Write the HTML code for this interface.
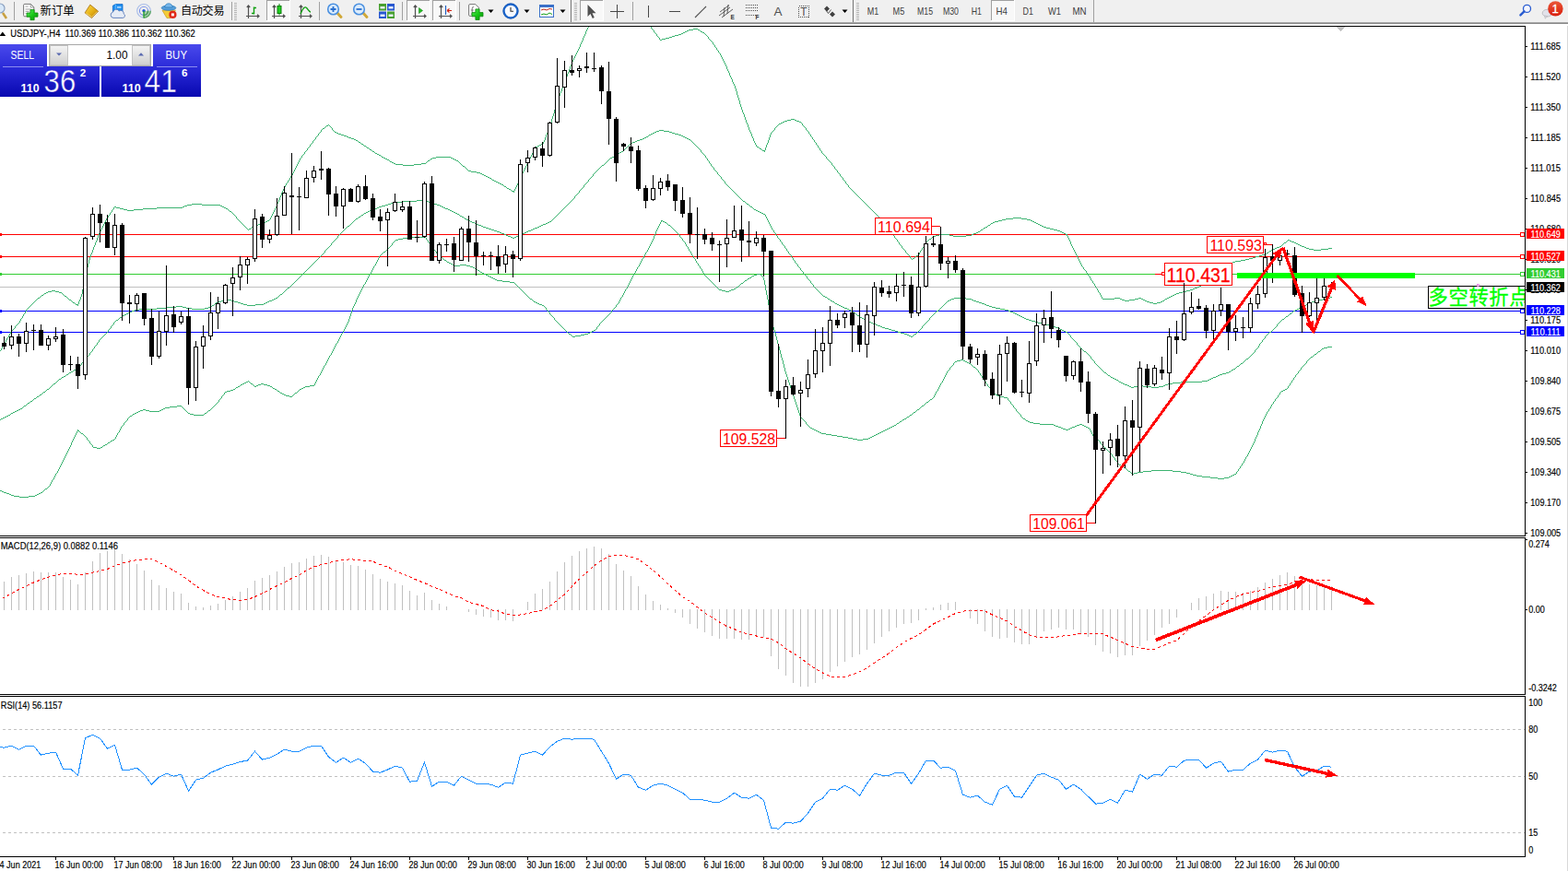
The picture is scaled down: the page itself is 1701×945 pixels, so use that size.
<!DOCTYPE html>
<html><head><meta charset="utf-8"><title>USDJPY H4</title>
<style>html,body{margin:0;padding:0;background:#fff;overflow:hidden}body{width:1701px;height:945px;font-family:"Liberation Sans",sans-serif}svg{display:block;position:absolute;left:0;top:0}text{font-family:"Liberation Sans",sans-serif}</style>
</head><body>
<svg width="1701" height="945" viewBox="0 0 1701 945">
<rect x="0" y="0" width="1701" height="945" fill="#fff" />
<defs><clipPath id="cm"><rect x="0" y="29" width="1654" height="552"/></clipPath><clipPath id="cmacd"><rect x="0" y="584" width="1654" height="169"/></clipPath><clipPath id="crsi"><rect x="0" y="756" width="1654" height="173"/></clipPath></defs>
<g clip-path="url(#cm)" shape-rendering="crispEdges">
<rect x="0" y="311" width="1654" height="1" fill="#c0c0c0" />
<rect x="0" y="254" width="1654" height="1" fill="#ff0000" />
<rect x="0" y="253" width="2" height="3" fill="#ff0000" />
<rect x="0" y="278" width="1654" height="1" fill="#ff0000" />
<rect x="0" y="277" width="2" height="3" fill="#ff0000" />
<rect x="0" y="297" width="1654" height="1" fill="#32cd32" />
<rect x="0" y="296" width="2" height="3" fill="#32cd32" />
<rect x="0" y="337" width="1654" height="1" fill="#0000ff" />
<rect x="0" y="336" width="2" height="3" fill="#0000ff" />
<rect x="0" y="360" width="1654" height="1" fill="#0000ff" />
<rect x="0" y="359" width="2" height="3" fill="#0000ff" />
<path d="M274 245h2v1h-2zM367 145h3v1h-3zM56 315h4v1h-4zM389 154h2v1h-2zM523 189h2v1h-2zM414 170h2v1h-2zM473 170h16v1h-16zM521 188h2v1h-2zM420 173h2v1h-2zM493 173h2v1h-2zM534 195h2v1h-2zM517 187h4v1h-4zM130 226h4v1h-4zM155 226h15v1h-15zM245 226h2v1h-2zM270 248h2v1h-2zM70 321h2v1h-2zM376 148h2v1h-2zM52 316h4v1h-4zM60 316h4v1h-4zM138 228h7v1h-7zM386 152h2v1h-2zM527 191h2v1h-2zM126 225h4v1h-4zM170 225h28v1h-28zM243 225h2v1h-2zM398 160h2v1h-2zM427 177h2v1h-2zM457 177h5v1h-5zM378 149h3v1h-3zM134 227h4v1h-4zM145 227h10v1h-10zM437 179h12v1h-12zM280 243h5v1h-5zM370 146h3v1h-3zM429 178h8v1h-8zM449 178h8v1h-8zM529 192h2v1h-2zM547 202h2v1h-2zM425 176h2v1h-2zM373 147h3v1h-3zM416 171h2v1h-2zM469 171h4v1h-4zM489 171h2v1h-2zM409 167h2v1h-2zM203 222h5v1h-5zM219 222h20v1h-20zM392 156h2v1h-2zM587 156h2v1h-2zM285 242h2v1h-2zM411 168h2v1h-2zM525 190h2v1h-2zM200 223h3v1h-3zM239 223h2v1h-2zM404 164h2v1h-2zM350 139h2v1h-2zM208 221h11v1h-11zM502 180h2v1h-2zM276 244h4v1h-4zM50 317h2v1h-2zM64 317h3v1h-3zM407 166h2v1h-2zM511 186h6v1h-6zM288 240h2v1h-2zM464 174h2v1h-2zM495 174h2v1h-2zM538 197h2v1h-2zM552 205h2v1h-2zM418 172h2v1h-2zM467 172h2v1h-2zM491 172h2v1h-2zM555 207h3v1h-3zM41 323h2v1h-2zM550 204h2v1h-2zM354 136h2v1h-2zM363 143h2v1h-2zM423 175h2v1h-2zM395 158h2v1h-2zM583 158h2v1h-2zM401 162h2v1h-2zM384 151h2v1h-2zM249 229h2v1h-2zM536 196h2v1h-2zM585 157h2v1h-2zM45 320h2v1h-2zM508 185h3v1h-3zM581 159h2v1h-2zM365 144h2v1h-2zM290 239h2v1h-2zM82 330h3v1h-3zM381 150h3v1h-3zM542 199h2v1h-2zM124 224h2v1h-2zM198 224h2v1h-2zM241 224h2v1h-2zM531 193h2v1h-2zM540 198h2v1h-2zM48 318h2v1h-2zM79 328h2v1h-2zM544 200h2v1h-2zM75 325h2v1h-2zM116 236h1v1h-1zM256 235h1v2h-1zM293 236h1v2h-1zM111 245h1v2h-1zM265 245h1v1h-1zM345 145h1v2h-1zM593 144h1v2h-1zM89 314h1v5h-1zM24 343h1v2h-1zM339 153h1v2h-1zM589 154h1v2h-1zM317 188h1v2h-1zM566 188h1v2h-1zM327 169h1v2h-1zM575 170h1v2h-1zM625 57h1v2h-1zM637 30h1v2h-1zM325 172h1v2h-1zM466 173h1v1h-1zM574 172h1v2h-1zM313 195h1v1h-1zM563 194h1v3h-1zM318 186h1v2h-1zM567 186h1v2h-1zM349 140h1v1h-1zM360 139h1v2h-1zM595 138h1v3h-1zM1 378h1v2h-1zM302 217h1v2h-1zM338 155h1v1h-1zM391 155h1v1h-1zM123 225h1v2h-1zM298 226h1v2h-1zM110 247h1v2h-1zM268 248h1v1h-1zM44 321h1v1h-1zM88 319h1v3h-1zM604 109h1v3h-1zM103 263h1v3h-1zM40 324h1v1h-1zM74 324h1v1h-1zM87 322h1v3h-1zM348 141h1v2h-1zM361 141h1v1h-1zM594 141h1v3h-1zM353 137h1v1h-1zM358 137h1v1h-1zM596 136h1v2h-1zM617 75h1v3h-1zM343 148h1v1h-1zM592 146h1v3h-1zM121 228h1v2h-1zM248 228h1v1h-1zM297 228h1v2h-1zM340 152h1v1h-1zM590 152h1v2h-1zM315 191h1v2h-1zM565 190h1v2h-1zM299 224h1v2h-1zM334 160h1v1h-1zM580 160h1v2h-1zM323 176h1v2h-1zM499 177h1v1h-1zM572 176h1v2h-1zM413 169h1v1h-1zM576 168h1v2h-1zM342 149h1v2h-1zM591 149h1v3h-1zM613 86h1v2h-1zM305 209h1v3h-1zM122 227h1v1h-1zM247 227h1v1h-1zM102 266h1v2h-1zM322 178h1v2h-1zM501 179h1v1h-1zM571 178h1v2h-1zM90 308h1v6h-1zM28 336h1v2h-1zM112 243h1v2h-1zM263 243h1v1h-1zM629 48h1v3h-1zM616 78h1v2h-1zM94 290h1v3h-1zM106 255h1v3h-1zM500 178h1v1h-1zM35 329h1v1h-1zM81 329h1v1h-1zM85 327h1v3h-1zM564 192h1v2h-1zM309 201h1v2h-1zM560 201h1v2h-1zM620 67h1v3h-1zM462 176h1v1h-1zM498 176h1v1h-1zM344 147h1v1h-1zM632 41h1v3h-1zM326 171h1v1h-1zM329 167h1v1h-1zM577 166h1v2h-1zM101 268h1v3h-1zM300 221h1v3h-1zM337 156h1v1h-1zM113 241h1v2h-1zM262 242h1v1h-1zM333 161h1v2h-1zM400 161h1v1h-1zM328 168h1v1h-1zM316 190h1v1h-1zM331 164h1v1h-1zM578 164h1v2h-1zM119 231h1v2h-1zM252 231h1v1h-1zM296 230h1v2h-1zM118 233h1v1h-1zM254 233h1v1h-1zM295 232h1v2h-1zM321 180h1v2h-1zM570 180h1v2h-1zM264 244h1v1h-1zM20 350h1v1h-1zM301 219h1v2h-1zM109 249h1v2h-1zM269 249h1v1h-1zM330 165h1v2h-1zM98 276h1v3h-1zM362 142h1v1h-1zM115 237h1v2h-1zM258 238h1v1h-1zM292 238h1v1h-1zM603 112h1v4h-1zM600 123h1v3h-1zM612 88h1v3h-1zM114 239h1v2h-1zM260 240h1v1h-1zM15 356h1v1h-1zM27 338h1v2h-1zM628 51h1v2h-1zM324 174h1v2h-1zM422 174h1v1h-1zM573 174h1v2h-1zM93 293h1v4h-1zM320 182h1v2h-1zM506 183h1v1h-1zM569 182h1v2h-1zM546 201h1v1h-1zM312 196h1v2h-1zM562 197h1v2h-1zM97 279h1v3h-1zM352 138h1v1h-1zM359 138h1v1h-1zM599 126h1v3h-1zM307 205h1v2h-1zM558 205h1v2h-1zM267 247h1v1h-1zM272 247h1v1h-1zM92 297h1v5h-1zM306 207h1v2h-1zM615 80h1v3h-1zM38 326h1v1h-1zM77 326h1v1h-1zM86 325h1v2h-1zM624 59h1v2h-1zM636 32h1v2h-1zM73 323h1v1h-1zM120 230h1v1h-1zM251 230h1v1h-1zM308 203h1v2h-1zM559 203h1v2h-1zM357 136h1v1h-1zM266 246h1v1h-1zM273 246h1v1h-1zM347 143h1v1h-1zM463 175h1v1h-1zM497 175h1v1h-1zM23 345h1v1h-1zM336 157h1v2h-1zM623 61h1v2h-1zM579 162h1v2h-1zM504 181h1v1h-1zM105 258h1v3h-1zM30 334h1v1h-1zM341 151h1v1h-1zM505 182h1v1h-1zM100 271h1v3h-1zM611 91h1v2h-1zM303 214h1v3h-1zM394 157h1v1h-1zM69 320h1v1h-1zM104 261h1v2h-1zM332 163h1v1h-1zM403 163h1v1h-1zM319 184h1v2h-1zM568 184h1v2h-1zM335 159h1v1h-1zM397 159h1v1h-1zM549 203h1v1h-1zM43 322h1v1h-1zM72 322h1v1h-1zM635 34h1v3h-1zM253 232h1v1h-1zM554 206h1v1h-1zM96 282h1v4h-1zM607 101h1v3h-1zM346 144h1v1h-1zM257 237h1v1h-1zM259 239h1v1h-1zM47 319h1v1h-1zM68 319h1v1h-1zM627 53h1v2h-1zM614 83h1v3h-1zM598 129h1v4h-1zM14 357h1v1h-1zM34 330h1v1h-1zM26 340h1v1h-1zM388 153h1v1h-1zM618 72h1v3h-1zM9 364h1v2h-1zM507 184h1v1h-1zM630 46h1v2h-1zM95 286h1v4h-1zM117 234h1v2h-1zM294 234h1v2h-1zM610 93h1v3h-1zM597 133h1v3h-1zM99 274h1v2h-1zM601 119h1v4h-1zM310 199h1v2h-1zM561 199h1v2h-1zM37 327h1v1h-1zM78 327h1v1h-1zM22 346h1v2h-1zM406 165h1v1h-1zM91 302h1v6h-1zM108 251h1v2h-1zM622 63h1v2h-1zM314 193h1v2h-1zM634 37h1v2h-1zM261 241h1v1h-1zM287 241h1v1h-1zM311 198h1v1h-1zM533 194h1v1h-1zM602 116h1v3h-1zM67 318h1v1h-1zM606 104h1v3h-1zM609 96h1v3h-1zM36 328h1v1h-1zM255 234h1v1h-1zM17 353h1v1h-1zM557 208h1v1h-1zM12 359h1v1h-1zM4 373h1v1h-1zM626 55h1v2h-1zM8 366h1v1h-1zM0 380h1v1h-1zM32 332h1v1h-1zM608 99h1v2h-1zM107 253h1v2h-1zM621 65h1v2h-1zM633 39h1v2h-1zM16 354h1v2h-1zM39 325h1v1h-1zM605 107h1v2h-1zM11 360h1v2h-1zM356 135h1v1h-1zM7 367h1v2h-1zM19 351h1v1h-1zM3 374h1v2h-1zM31 333h1v1h-1zM304 212h1v2h-1zM33 331h1v1h-1zM84 331h1v1h-1zM619 70h1v2h-1zM10 362h1v2h-1zM2 376h1v2h-1zM6 369h1v2h-1zM18 352h1v1h-1zM631 44h1v2h-1zM25 341h1v2h-1zM29 335h1v1h-1zM21 348h1v2h-1zM638 29h1v1h-1zM5 371h1v2h-1zM13 358h1v1h-1z" fill="#3cb371"/>
<path d="M1381 270h2v1h-2zM1420 270h5v1h-5zM1433 270h8v1h-8zM990 280h2v1h-2zM1355 280h4v1h-4zM1270 321h2v1h-2zM1012 256h3v1h-3zM1034 256h14v1h-14zM741 35h2v1h-2zM762 35h2v1h-2zM1056 253h3v1h-3zM1154 253h2v1h-2zM1268 322h2v1h-2zM851 131h3v1h-3zM864 131h3v1h-3zM1399 261h2v1h-2zM1217 325h3v1h-3zM1225 325h6v1h-6zM1240 325h2v1h-2zM1287 315h4v1h-4zM1091 237h8v1h-8zM1108 237h6v1h-6zM1406 264h2v1h-2zM1244 327h3v1h-3zM1259 327h2v1h-2zM847 133h2v1h-2zM1064 249h2v1h-2zM1143 249h4v1h-4zM1209 323h6v1h-6zM1235 323h3v1h-3zM1266 323h2v1h-2zM1408 265h2v1h-2zM1019 254h11v1h-11zM1054 254h2v1h-2zM1156 254h2v1h-2zM1247 328h4v1h-4zM1255 328h4v1h-4zM858 129h4v1h-4zM1410 266h2v1h-2zM1377 272h2v1h-2zM716 43h2v1h-2zM1015 255h4v1h-4zM1030 255h4v1h-4zM1048 255h6v1h-6zM745 33h2v1h-2zM1196 324h13v1h-13zM1215 324h2v1h-2zM1231 324h4v1h-4zM1238 324h2v1h-2zM1264 324h2v1h-2zM718 42h4v1h-4zM732 38h4v1h-4zM1079 240h4v1h-4zM1120 240h2v1h-2zM752 31h5v1h-5zM1324 292h2v1h-2zM1099 236h9v1h-9zM729 39h3v1h-3zM1337 284h3v1h-3zM1362 278h4v1h-4zM1340 283h6v1h-6zM1279 317h4v1h-4zM845 134h2v1h-2zM994 277h2v1h-2zM1366 277h3v1h-3zM854 130h4v1h-4zM862 130h2v1h-2zM1251 329h4v1h-4zM1061 251h2v1h-2zM1150 251h2v1h-2zM1393 263h2v1h-2zM1404 263h2v1h-2zM1379 271h2v1h-2zM1425 271h8v1h-8zM1374 274h2v1h-2zM1351 281h4v1h-4zM1130 245h2v1h-2zM747 32h5v1h-5zM757 32h2v1h-2zM1147 250h3v1h-3zM1075 242h2v1h-2zM1124 242h2v1h-2zM1388 267h2v1h-2zM1412 267h3v1h-3zM743 34h2v1h-2zM760 34h2v1h-2zM736 37h3v1h-3zM1294 313h2v1h-2zM1330 288h2v1h-2zM1272 320h2v1h-2zM726 40h3v1h-3zM821 159h2v1h-2zM827 163h3v1h-3zM1311 302h2v1h-2zM1087 238h4v1h-4zM1114 238h4v1h-4zM1383 269h2v1h-2zM1417 269h3v1h-3zM1441 269h4v1h-4zM1369 276h3v1h-3zM1069 246h2v1h-2zM1132 246h3v1h-3zM1067 247h2v1h-2zM1135 247h4v1h-4zM1059 252h2v1h-2zM1152 252h2v1h-2zM1126 243h2v1h-2zM739 36h2v1h-2zM849 132h2v1h-2zM867 132h2v1h-2zM1072 244h2v1h-2zM1128 244h2v1h-2zM1346 282h5v1h-5zM1276 318h3v1h-3zM1296 312h3v1h-3zM1385 268h3v1h-3zM1415 268h2v1h-2zM1397 260h2v1h-2zM1335 285h2v1h-2zM1139 248h4v1h-4zM1359 279h3v1h-3zM1083 239h4v1h-4zM1118 239h2v1h-2zM1401 262h3v1h-3zM1283 316h4v1h-4zM722 41h4v1h-4zM1008 259h2v1h-2zM1077 241h2v1h-2zM1122 241h2v1h-2zM1220 326h5v1h-5zM1242 326h2v1h-2zM1261 326h2v1h-2zM1291 314h3v1h-3zM1327 290h2v1h-2zM1372 275h2v1h-2zM824 161h2v1h-2zM1299 311h2v1h-2zM1320 295h2v1h-2zM1332 287h2v1h-2zM1301 310h2v1h-2zM1305 307h2v1h-2zM1316 298h2v1h-2zM1274 319h2v1h-2zM980 270h1v1h-1zM1000 269h1v2h-1zM1164 269h1v2h-1zM988 280h1v1h-1zM1169 279h1v2h-1zM1194 320h1v2h-1zM970 256h1v2h-1zM1158 256h1v2h-1zM710 35h1v1h-1zM967 252h1v2h-1zM1195 322h1v2h-1zM811 135h1v3h-1zM844 135h1v1h-1zM870 134h1v2h-1zM791 79h1v3h-1zM809 130h1v3h-1zM799 99h1v4h-1zM843 136h1v1h-1zM871 136h1v1h-1zM973 260h1v2h-1zM1006 261h1v1h-1zM1160 260h1v2h-1zM1396 261h1v1h-1zM1180 297h1v2h-1zM1318 297h1v1h-1zM812 138h1v3h-1zM840 139h1v2h-1zM874 139h1v2h-1zM1263 325h1v1h-1zM1191 315h1v2h-1zM955 237h1v2h-1zM975 263h1v2h-1zM1003 264h1v2h-1zM1161 262h1v3h-1zM1392 264h1v1h-1zM810 133h1v2h-1zM869 133h1v1h-1zM964 249h1v1h-1zM814 143h1v2h-1zM837 143h1v1h-1zM877 143h1v2h-1zM947 229h1v1h-1zM976 265h1v1h-1zM1162 265h1v2h-1zM1391 265h1v1h-1zM788 72h1v3h-1zM968 254h1v1h-1zM917 197h1v2h-1zM808 127h1v3h-1zM977 266h1v1h-1zM1002 266h1v2h-1zM1390 266h1v1h-1zM982 272h1v2h-1zM998 272h1v2h-1zM1165 271h1v2h-1zM819 155h1v2h-1zM832 155h1v2h-1zM885 155h1v2h-1zM816 148h1v2h-1zM834 149h1v3h-1zM881 149h1v2h-1zM770 43h1v1h-1zM921 203h1v1h-1zM802 109h1v4h-1zM969 255h1v1h-1zM1157 255h1v1h-1zM709 33h1v2h-1zM759 33h1v1h-1zM820 157h1v2h-1zM831 157h1v3h-1zM886 157h1v1h-1zM715 41h1v2h-1zM769 42h1v1h-1zM712 37h1v2h-1zM766 38h1v1h-1zM957 240h1v1h-1zM707 31h1v1h-1zM1176 292h1v1h-1zM954 236h1v1h-1zM713 39h1v1h-1zM767 39h1v1h-1zM795 89h1v2h-1zM1171 283h1v2h-1zM1174 289h1v1h-1zM1329 289h1v1h-1zM906 183h1v1h-1zM987 278h1v2h-1zM993 278h1v1h-1zM1168 277h1v2h-1zM806 122h1v2h-1zM928 210h1v1h-1zM971 258h1v1h-1zM1010 258h1v1h-1zM1159 258h1v2h-1zM1187 308h1v2h-1zM1304 308h1v1h-1zM1192 317h1v1h-1zM986 277h1v1h-1zM966 251h1v1h-1zM841 138h1v1h-1zM873 138h1v1h-1zM1004 263h1v1h-1zM818 153h1v2h-1zM833 152h1v3h-1zM884 154h1v1h-1zM981 271h1v1h-1zM999 271h1v1h-1zM983 274h1v1h-1zM997 274h1v2h-1zM1166 273h1v2h-1zM989 281h1v1h-1zM1170 281h1v2h-1zM961 245h1v1h-1zM1071 245h1v1h-1zM798 96h1v3h-1zM823 160h1v1h-1zM830 160h1v3h-1zM888 160h1v1h-1zM708 32h1v1h-1zM965 250h1v1h-1zM1063 250h1v1h-1zM959 242h1v2h-1zM978 267h1v2h-1zM1163 267h1v2h-1zM801 106h1v3h-1zM765 37h1v1h-1zM1190 313h1v2h-1zM905 181h1v2h-1zM805 119h1v3h-1zM1173 287h1v2h-1zM714 40h1v1h-1zM768 40h1v2h-1zM826 162h1v1h-1zM889 161h1v2h-1zM1185 305h1v2h-1zM1308 305h1v1h-1zM909 187h1v1h-1zM887 158h1v2h-1zM890 163h1v1h-1zM1183 302h1v2h-1zM979 269h1v1h-1zM817 150h1v3h-1zM883 152h1v2h-1zM891 164h1v2h-1zM920 201h1v2h-1zM985 276h1v1h-1zM996 276h1v1h-1zM1167 275h1v2h-1zM962 246h1v1h-1zM935 217h1v1h-1zM963 247h1v2h-1zM898 173h1v1h-1zM927 209h1v1h-1zM1074 243h1v1h-1zM815 145h1v3h-1zM835 146h1v3h-1zM879 146h1v2h-1zM711 36h1v1h-1zM764 36h1v1h-1zM960 244h1v1h-1zM1011 257h1v1h-1zM942 224h1v1h-1zM790 77h1v2h-1zM1179 296h1v1h-1zM1319 296h1v1h-1zM1172 285h1v2h-1zM1334 286h1v1h-1zM1193 318h1v2h-1zM934 216h1v1h-1zM1189 312h1v1h-1zM1001 268h1v1h-1zM1177 293h1v1h-1zM1323 293h1v1h-1zM919 200h1v1h-1zM1007 260h1v1h-1zM797 93h1v3h-1zM1376 273h1v1h-1zM787 70h1v2h-1zM949 231h1v1h-1zM1066 248h1v1h-1zM992 279h1v1h-1zM941 223h1v1h-1zM956 239h1v1h-1zM794 86h1v3h-1zM842 137h1v1h-1zM872 137h1v1h-1zM974 262h1v1h-1zM1005 262h1v1h-1zM1395 262h1v1h-1zM882 151h1v1h-1zM972 259h1v1h-1zM807 124h1v3h-1zM1175 290h1v2h-1zM1326 291h1v1h-1zM908 185h1v2h-1zM958 241h1v1h-1zM800 103h1v3h-1zM912 191h1v1h-1zM984 275h1v1h-1zM786 68h1v2h-1zM772 45h1v1h-1zM923 205h1v1h-1zM804 116h1v3h-1zM948 230h1v1h-1zM911 189h1v2h-1zM789 75h1v2h-1zM930 212h1v1h-1zM771 44h1v1h-1zM922 204h1v1h-1zM775 49h1v2h-1zM937 219h1v1h-1zM796 91h1v2h-1zM1310 303h1v1h-1zM899 174h1v1h-1zM836 144h1v2h-1zM878 145h1v1h-1zM1182 300h1v2h-1zM1314 300h1v1h-1zM900 175h1v1h-1zM929 211h1v1h-1zM1303 309h1v1h-1zM1307 306h1v1h-1zM813 141h1v2h-1zM839 141h1v1h-1zM875 141h1v1h-1zM892 166h1v1h-1zM774 48h1v1h-1zM782 60h1v2h-1zM1188 310h1v2h-1zM1178 294h1v2h-1zM1322 294h1v1h-1zM910 188h1v1h-1zM914 193h1v2h-1zM936 218h1v1h-1zM785 66h1v2h-1zM706 29h1v2h-1zM880 148h1v1h-1zM778 54h1v1h-1zM943 225h1v1h-1zM792 82h1v2h-1zM903 179h1v1h-1zM838 142h1v1h-1zM876 142h1v1h-1zM950 232h1v1h-1zM829 164h1v1h-1zM773 46h1v2h-1zM1186 307h1v1h-1zM951 233h1v1h-1zM784 64h1v2h-1zM924 206h1v1h-1zM1184 304h1v1h-1zM1309 304h1v1h-1zM777 52h1v2h-1zM925 207h1v1h-1zM902 177h1v2h-1zM913 192h1v1h-1zM932 214h1v1h-1zM783 62h1v2h-1zM1313 301h1v1h-1zM776 51h1v1h-1zM931 213h1v1h-1zM916 196h1v1h-1zM938 220h1v1h-1zM779 55h1v2h-1zM939 221h1v1h-1zM780 57h1v1h-1zM901 176h1v1h-1zM793 84h1v2h-1zM945 227h1v1h-1zM946 228h1v1h-1zM893 167h1v1h-1zM894 168h1v1h-1zM953 235h1v1h-1zM944 226h1v1h-1zM904 180h1v1h-1zM915 195h1v1h-1zM803 113h1v3h-1zM952 234h1v1h-1zM897 172h1v1h-1zM926 208h1v1h-1zM1181 299h1v1h-1zM1315 299h1v1h-1zM933 215h1v1h-1zM918 199h1v1h-1zM896 170h1v2h-1zM781 58h1v2h-1zM907 184h1v1h-1zM895 169h1v1h-1zM940 222h1v1h-1z" fill="#3cb371"/>
<path d="M130 344h2v1h-2zM933 344h2v1h-2zM1109 344h2v1h-2zM151 335h19v1h-19zM208 335h14v1h-14zM919 335h2v1h-2zM1085 335h5v1h-5zM1407 335h2v1h-2zM261 329h3v1h-3zM286 329h2v1h-2zM906 329h2v1h-2zM1065 329h3v1h-3zM1419 329h2v1h-2zM715 141h5v1h-5zM664 170h2v1h-2zM1227 420h3v1h-3zM1249 420h8v1h-8zM236 327h4v1h-4zM254 327h4v1h-4zM290 327h2v1h-2zM903 327h2v1h-2zM1059 327h3v1h-3zM1423 327h4v1h-4zM1326 405h4v1h-4zM554 257h2v1h-2zM558 257h2v1h-2zM952 353h3v1h-3zM1139 353h4v1h-4zM191 332h7v1h-7zM912 332h2v1h-2zM1073 332h3v1h-3zM1414 332h2v1h-2zM556 258h2v1h-2zM955 354h2v1h-2zM1143 354h2v1h-2zM230 331h2v1h-2zM268 331h9v1h-9zM910 331h2v1h-2zM1070 331h3v1h-3zM64 411h2v1h-2zM1209 411h2v1h-2zM1312 411h2v1h-2zM299 323h2v1h-2zM1035 323h13v1h-13zM1439 323h4v1h-4zM126 347h2v1h-2zM939 347h2v1h-2zM1116 347h3v1h-3zM170 334h10v1h-10zM202 334h6v1h-6zM222 334h4v1h-4zM916 334h3v1h-3zM1080 334h5v1h-5zM1409 334h3v1h-3zM1216 415h2v1h-2zM1272 415h9v1h-9zM1225 419h2v1h-2zM1230 419h4v1h-4zM1240 419h9v1h-9zM1257 419h5v1h-5zM139 339h2v1h-2zM926 339h2v1h-2zM1099 339h2v1h-2zM524 246h3v1h-3zM583 246h2v1h-2zM146 336h5v1h-5zM921 336h2v1h-2zM1090 336h4v1h-4zM1405 336h2v1h-2zM240 326h6v1h-6zM251 326h3v1h-3zM292 326h3v1h-3zM901 326h2v1h-2zM1028 326h2v1h-2zM1056 326h3v1h-3zM1427 326h4v1h-4zM246 325h5v1h-5zM295 325h2v1h-2zM1030 325h2v1h-2zM1054 325h2v1h-2zM1431 325h4v1h-4zM662 171h2v1h-2zM180 333h11v1h-11zM198 333h4v1h-4zM226 333h3v1h-3zM914 333h2v1h-2zM1076 333h4v1h-4zM1412 333h2v1h-2zM527 247h3v1h-3zM580 247h3v1h-3zM264 330h4v1h-4zM277 330h9v1h-9zM908 330h2v1h-2zM1068 330h2v1h-2zM1417 330h2v1h-2zM386 237h2v1h-2zM504 237h2v1h-2zM689 153h2v1h-2zM1352 389h2v1h-2zM1214 414h2v1h-2zM1281 414h23v1h-23zM20 444h2v1h-2zM452 217h9v1h-9zM16 446h2v1h-2zM708 144h2v1h-2zM729 144h3v1h-3zM519 244h3v1h-3zM587 244h2v1h-2zM40 430h2v1h-2zM137 340h2v1h-2zM1101 340h2v1h-2zM1399 340h2v1h-2zM704 146h2v1h-2zM736 146h3v1h-3zM141 338h2v1h-2zM1096 338h3v1h-3zM686 154h3v1h-3zM1220 417h3v1h-3zM1264 417h3v1h-3zM421 221h3v1h-3zM471 221h3v1h-3zM810 221h2v1h-2zM397 230h2v1h-2zM492 230h2v1h-2zM824 230h2v1h-2zM530 248h3v1h-3zM578 248h2v1h-2zM943 349h2v1h-2zM1123 349h3v1h-3zM947 351h3v1h-3zM1130 351h5v1h-5zM297 324h2v1h-2zM898 324h2v1h-2zM1032 324h3v1h-3zM1048 324h6v1h-6zM1435 324h4v1h-4zM697 150h2v1h-2zM745 150h2v1h-2zM437 218h15v1h-15zM461 218h4v1h-4zM806 218h2v1h-2zM135 341h2v1h-2zM1103 341h2v1h-2zM672 165h2v1h-2zM409 225h2v1h-2zM481 225h2v1h-2zM1304 413h6v1h-6zM424 220h4v1h-4zM469 220h2v1h-2zM406 226h3v1h-3zM483 226h3v1h-3zM26 440h2v1h-2zM1202 407h2v1h-2zM1321 407h2v1h-2zM234 328h2v1h-2zM258 328h3v1h-3zM288 328h2v1h-2zM1062 328h3v1h-3zM1421 328h2v1h-2zM533 249h3v1h-3zM576 249h2v1h-2zM551 256h3v1h-3zM560 256h2v1h-2zM945 350h2v1h-2zM1126 350h4v1h-4zM411 224h3v1h-3zM479 224h2v1h-2zM814 224h2v1h-2zM1211 412h2v1h-2zM1310 412h2v1h-2zM699 149h2v1h-2zM743 149h2v1h-2zM428 219h9v1h-9zM465 219h4v1h-4zM937 346h2v1h-2zM1113 346h3v1h-3zM1391 346h2v1h-2zM80 401h2v1h-2zM1336 401h2v1h-2zM517 243h2v1h-2zM589 243h3v1h-3zM986 364h2v1h-2zM988 365h2v1h-2zM77 403h2v1h-2zM1333 403h2v1h-2zM542 252h2v1h-2zM569 252h2v1h-2zM684 155h2v1h-2zM1176 381h2v1h-2zM399 229h2v1h-2zM490 229h2v1h-2zM822 229h2v1h-2zM377 245h2v1h-2zM522 245h2v1h-2zM585 245h2v1h-2zM974 360h3v1h-3zM1156 360h2v1h-2zM1377 360h2v1h-2zM977 361h4v1h-4zM304 319h2v1h-2zM941 348h2v1h-2zM1119 348h4v1h-4zM508 239h2v1h-2zM1207 410h2v1h-2zM1314 410h2v1h-2zM971 359h3v1h-3zM1154 359h2v1h-2zM133 342h2v1h-2zM930 342h2v1h-2zM1105 342h2v1h-2zM712 142h3v1h-3zM720 142h6v1h-6zM392 233h2v1h-2zM957 355h3v1h-3zM1145 355h3v1h-3zM950 352h2v1h-2zM1135 352h4v1h-4zM935 345h2v1h-2zM1111 345h2v1h-2zM981 362h3v1h-3zM992 362h2v1h-2zM669 167h2v1h-2zM984 363h2v1h-2zM496 232h2v1h-2zM828 232h2v1h-2zM47 425h2v1h-2zM499 234h2v1h-2zM7 451h2v1h-2zM694 151h3v1h-3zM747 151h2v1h-2zM1223 418h2v1h-2zM1234 418h6v1h-6zM1262 418h2v1h-2zM515 242h2v1h-2zM592 242h2v1h-2zM72 406h2v1h-2zM1323 406h3v1h-3zM1346 394h2v1h-2zM653 179h2v1h-2zM691 152h3v1h-3zM701 148h2v1h-2zM741 148h2v1h-2zM967 358h4v1h-4zM1152 358h2v1h-2zM706 145h2v1h-2zM732 145h4v1h-4zM414 223h4v1h-4zM477 223h2v1h-2zM30 437h2v1h-2zM75 404h2v1h-2zM1198 404h2v1h-2zM1330 404h3v1h-3zM544 253h3v1h-3zM567 253h2v1h-2zM536 250h3v1h-3zM573 250h3v1h-3zM14 447h2v1h-2zM506 238h2v1h-2zM510 240h2v1h-2zM596 240h2v1h-2zM67 409h2v1h-2zM1205 409h2v1h-2zM1316 409h3v1h-3zM143 337h3v1h-3zM923 337h2v1h-2zM1016 337h2v1h-2zM1094 337h2v1h-2zM1403 337h2v1h-2zM51 422h2v1h-2zM69 408h2v1h-2zM1319 408h2v1h-2zM3 453h2v1h-2zM418 222h3v1h-3zM474 222h3v1h-3zM964 357h3v1h-3zM1150 357h2v1h-2zM22 443h2v1h-2zM895 322h2v1h-2zM1443 322h2v1h-2zM674 164h2v1h-2zM512 241h3v1h-3zM594 241h2v1h-2zM960 356h4v1h-4zM1148 356h2v1h-2zM58 416h2v1h-2zM1218 416h2v1h-2zM1267 416h5v1h-5zM710 143h2v1h-2zM726 143h3v1h-3zM547 254h2v1h-2zM564 254h3v1h-3zM739 147h2v1h-2zM5 452h2v1h-2zM389 235h2v1h-2zM501 235h2v1h-2zM539 251h3v1h-3zM571 251h2v1h-2zM549 255h2v1h-2zM562 255h2v1h-2zM1342 397h2v1h-2zM37 432h2v1h-2zM1107 343h2v1h-2zM1395 343h2v1h-2zM312 312h2v1h-2zM1 454h2v1h-2zM401 228h3v1h-3zM488 228h2v1h-2zM820 228h2v1h-2zM43 428h2v1h-2zM395 231h2v1h-2zM494 231h2v1h-2zM826 231h2v1h-2zM12 448h2v1h-2zM893 321h2v1h-2zM404 227h2v1h-2zM486 227h2v1h-2zM818 227h2v1h-2zM666 169h2v1h-2zM9 450h2v1h-2zM82 400h2v1h-2zM1338 400h2v1h-2zM18 445h2v1h-2zM33 435h2v1h-2zM648 184h1v1h-1zM775 184h1v1h-1zM1009 344h1v1h-1zM1394 344h1v1h-1zM95 386h1v1h-1zM1182 386h1v1h-1zM1356 386h1v1h-1zM1019 335h1v1h-1zM233 329h1v1h-1zM1025 329h1v1h-1zM634 200h1v1h-1zM788 200h1v1h-1zM100 379h1v2h-1zM1175 380h1v1h-1zM1361 380h1v2h-1zM765 169h1v2h-1zM54 420h1v1h-1zM1027 327h1v1h-1zM74 405h1v1h-1zM1200 405h1v1h-1zM366 256h1v2h-1zM843 256h1v2h-1zM121 353h1v1h-1zM1001 353h1v1h-1zM1385 352h1v2h-1zM229 332h1v1h-1zM1022 332h1v1h-1zM365 258h1v1h-1zM844 258h1v1h-1zM120 354h1v2h-1zM1000 354h1v2h-1zM1384 354h1v1h-1zM1023 331h1v1h-1zM1416 331h1v1h-1zM349 276h1v1h-1zM857 276h1v1h-1zM897 323h1v1h-1zM1007 347h1v1h-1zM1390 347h1v1h-1zM348 277h1v1h-1zM858 277h1v2h-1zM1020 334h1v1h-1zM60 415h1v1h-1zM55 419h1v1h-1zM328 297h1v1h-1zM872 297h1v1h-1zM1014 339h1v1h-1zM1401 339h1v1h-1zM376 246h1v1h-1zM836 245h1v2h-1zM1018 336h1v1h-1zM900 325h1v1h-1zM766 171h1v1h-1zM107 369h1v2h-1zM1166 370h1v1h-1zM1369 369h1v2h-1zM1021 333h1v1h-1zM375 247h1v1h-1zM837 247h1v2h-1zM232 330h1v1h-1zM1024 330h1v1h-1zM94 387h1v2h-1zM1183 387h1v2h-1zM1354 388h1v1h-1zM600 237h1v1h-1zM832 237h1v2h-1zM750 153h1v1h-1zM93 389h1v1h-1zM1184 389h1v1h-1zM61 414h1v1h-1zM620 217h1v1h-1zM805 217h1v1h-1zM379 244h1v1h-1zM835 243h1v2h-1zM928 340h1v1h-1zM1013 340h1v1h-1zM925 338h1v1h-1zM1015 338h1v1h-1zM1402 338h1v1h-1zM751 154h1v1h-1zM57 417h1v1h-1zM616 221h1v1h-1zM607 230h1v1h-1zM643 189h1v2h-1zM779 189h1v1h-1zM374 248h1v1h-1zM124 349h1v1h-1zM1005 349h1v1h-1zM1388 349h1v1h-1zM123 350h1v2h-1zM1003 351h1v1h-1zM1386 351h1v1h-1zM364 259h1v1h-1zM845 259h1v1h-1zM363 260h1v1h-1zM846 260h1v2h-1zM345 280h1v1h-1zM860 280h1v2h-1zM339 286h1v1h-1zM864 286h1v1h-1zM319 306h1v1h-1zM879 305h1v2h-1zM326 299h1v1h-1zM874 299h1v1h-1zM619 218h1v1h-1zM650 182h1v1h-1zM774 182h1v2h-1zM325 300h1v1h-1zM875 300h1v2h-1zM929 341h1v1h-1zM1012 341h1v1h-1zM1398 341h1v1h-1zM659 174h1v1h-1zM768 174h1v1h-1zM761 165h1v1h-1zM105 372h1v2h-1zM1168 372h1v2h-1zM1366 373h1v2h-1zM612 225h1v1h-1zM816 225h1v1h-1zM62 413h1v1h-1zM1213 413h1v1h-1zM617 220h1v1h-1zM809 220h1v1h-1zM611 226h1v1h-1zM817 226h1v1h-1zM652 180h1v1h-1zM772 180h1v1h-1zM640 193h1v1h-1zM782 192h1v2h-1zM71 407h1v1h-1zM905 328h1v1h-1zM1026 328h1v1h-1zM642 191h1v1h-1zM781 191h1v1h-1zM373 249h1v1h-1zM838 249h1v1h-1zM1004 350h1v1h-1zM1387 350h1v1h-1zM613 224h1v1h-1zM680 159h1v1h-1zM756 159h1v1h-1zM637 197h1v1h-1zM786 197h1v2h-1zM63 412h1v1h-1zM1174 379h1v1h-1zM1362 379h1v1h-1zM677 162h1v1h-1zM759 162h1v1h-1zM338 287h1v1h-1zM865 287h1v2h-1zM618 219h1v1h-1zM808 219h1v1h-1zM128 346h1v1h-1zM1008 345h1v2h-1zM1195 401h1v1h-1zM380 243h1v1h-1zM112 364h1v1h-1zM990 364h1v1h-1zM1161 364h1v2h-1zM1373 364h1v1h-1zM629 206h1v1h-1zM794 206h1v1h-1zM111 365h1v1h-1zM1372 365h1v2h-1zM1197 403h1v1h-1zM370 252h1v1h-1zM840 252h1v1h-1zM361 262h1v1h-1zM847 262h1v1h-1zM752 155h1v1h-1zM88 394h1v2h-1zM1189 395h1v1h-1zM1345 395h1v1h-1zM360 263h1v1h-1zM848 263h1v2h-1zM323 302h1v1h-1zM876 302h1v1h-1zM99 381h1v1h-1zM322 303h1v1h-1zM877 303h1v1h-1zM608 229h1v1h-1zM357 267h1v1h-1zM851 267h1v2h-1zM96 385h1v1h-1zM1181 385h1v1h-1zM1357 385h1v1h-1zM116 360h1v1h-1zM995 360h1v1h-1zM103 375h1v1h-1zM1170 375h1v1h-1zM1365 375h1v2h-1zM115 361h1v1h-1zM994 361h1v1h-1zM1158 361h1v1h-1zM1376 361h1v1h-1zM352 272h1v2h-1zM855 273h1v2h-1zM102 376h1v2h-1zM1171 376h1v1h-1zM110 366h1v1h-1zM1162 366h1v1h-1zM891 319h1v1h-1zM125 348h1v1h-1zM1006 348h1v1h-1zM1389 348h1v1h-1zM384 239h1v1h-1zM598 239h1v1h-1zM833 239h1v2h-1zM321 304h1v1h-1zM878 304h1v1h-1zM66 410h1v1h-1zM117 358h1v2h-1zM996 359h1v1h-1zM1379 359h1v1h-1zM98 382h1v1h-1zM1178 382h1v1h-1zM1360 382h1v1h-1zM318 307h1v1h-1zM880 307h1v1h-1zM1011 342h1v1h-1zM1397 342h1v1h-1zM498 233h1v1h-1zM604 233h1v1h-1zM830 233h1v2h-1zM1383 355h1v1h-1zM122 352h1v1h-1zM1002 352h1v1h-1zM129 345h1v1h-1zM1393 345h1v1h-1zM631 204h1v1h-1zM792 204h1v1h-1zM320 305h1v1h-1zM114 362h1v1h-1zM1159 362h1v1h-1zM1375 362h1v1h-1zM763 167h1v1h-1zM647 185h1v1h-1zM776 185h1v1h-1zM113 363h1v1h-1zM991 363h1v1h-1zM1160 363h1v1h-1zM1374 363h1v1h-1zM394 232h1v1h-1zM605 232h1v1h-1zM636 198h1v1h-1zM332 293h1v1h-1zM869 293h1v1h-1zM635 199h1v1h-1zM787 199h1v1h-1zM24 442h1v1h-1zM347 278h1v1h-1zM391 234h1v1h-1zM603 234h1v1h-1zM1367 372h1v1h-1zM649 183h1v1h-1zM646 186h1v1h-1zM777 186h1v1h-1zM56 418h1v1h-1zM630 205h1v1h-1zM793 205h1v1h-1zM351 274h1v1h-1zM381 242h1v1h-1zM834 241h1v2h-1zM641 192h1v1h-1zM1201 406h1v1h-1zM1188 394h1v1h-1zM622 215h1v1h-1zM803 215h1v1h-1zM104 374h1v1h-1zM1169 374h1v1h-1zM771 178h1v2h-1zM749 152h1v1h-1zM317 308h1v1h-1zM881 308h1v1h-1zM997 358h1v1h-1zM1380 358h1v1h-1zM614 223h1v1h-1zM813 223h1v1h-1zM91 391h1v1h-1zM1186 391h1v1h-1zM1350 391h1v1h-1zM638 195h1v2h-1zM785 196h1v1h-1zM369 253h1v1h-1zM841 253h1v2h-1zM92 390h1v1h-1zM1185 390h1v1h-1zM1351 390h1v1h-1zM372 250h1v1h-1zM839 250h1v2h-1zM660 173h1v1h-1zM767 172h1v2h-1zM306 318h1v1h-1zM890 318h1v1h-1zM87 396h1v1h-1zM1190 396h1v1h-1zM1344 396h1v1h-1zM341 284h1v1h-1zM862 283h1v2h-1zM681 158h1v1h-1zM755 158h1v1h-1zM385 238h1v1h-1zM599 238h1v1h-1zM628 207h1v2h-1zM795 207h1v1h-1zM796 208h1v1h-1zM310 314h1v1h-1zM886 314h1v1h-1zM383 240h1v1h-1zM1172 377h1v1h-1zM1364 377h1v1h-1zM97 383h1v2h-1zM1179 383h1v1h-1zM1359 383h1v1h-1zM1204 408h1v1h-1zM780 190h1v1h-1zM623 213h1v2h-1zM802 214h1v1h-1zM624 212h1v1h-1zM800 212h1v1h-1zM362 261h1v1h-1zM324 301h1v1h-1zM344 281h1v1h-1zM679 160h1v1h-1zM757 160h1v1h-1zM79 402h1v1h-1zM1196 402h1v1h-1zM1335 402h1v1h-1zM678 161h1v1h-1zM758 161h1v1h-1zM615 222h1v1h-1zM812 222h1v1h-1zM1180 384h1v1h-1zM1358 384h1v1h-1zM118 357h1v1h-1zM998 357h1v1h-1zM1381 357h1v1h-1zM331 294h1v1h-1zM870 294h1v1h-1zM109 367h1v1h-1zM1163 367h1v1h-1zM1371 367h1v1h-1zM301 322h1v1h-1zM343 282h1v1h-1zM861 282h1v1h-1zM358 266h1v1h-1zM850 266h1v1h-1zM311 313h1v1h-1zM885 313h1v1h-1zM355 269h1v1h-1zM852 269h1v1h-1zM633 201h1v2h-1zM789 201h1v1h-1zM350 275h1v1h-1zM856 275h1v1h-1zM108 368h1v1h-1zM1164 368h1v1h-1zM1370 368h1v1h-1zM661 172h1v1h-1zM359 264h1v2h-1zM303 320h1v1h-1zM892 320h1v1h-1zM342 283h1v1h-1zM336 289h1v1h-1zM866 289h1v1h-1zM760 163h1v2h-1zM656 177h1v1h-1zM770 177h1v1h-1zM655 178h1v1h-1zM1355 387h1v1h-1zM90 392h1v1h-1zM1187 392h1v2h-1zM1349 392h1v1h-1zM382 241h1v1h-1zM671 166h1v1h-1zM762 166h1v1h-1zM119 356h1v1h-1zM999 356h1v1h-1zM1382 356h1v1h-1zM632 203h1v1h-1zM791 203h1v1h-1zM330 295h1v1h-1zM871 295h1v2h-1zM388 236h1v1h-1zM503 236h1v1h-1zM601 236h1v1h-1zM831 235h1v2h-1zM854 272h1v1h-1zM368 254h1v1h-1zM703 147h1v1h-1zM337 288h1v1h-1zM651 181h1v1h-1zM773 181h1v1h-1zM626 210h1v1h-1zM798 210h1v1h-1zM602 235h1v1h-1zM371 251h1v1h-1zM801 213h1v1h-1zM639 194h1v1h-1zM783 194h1v1h-1zM683 156h1v1h-1zM753 156h1v1h-1zM682 157h1v1h-1zM754 157h1v1h-1zM367 255h1v1h-1zM842 255h1v1h-1zM86 397h1v1h-1zM1191 397h1v1h-1zM676 163h1v1h-1zM1165 369h1v1h-1zM316 309h1v1h-1zM882 309h1v2h-1zM668 168h1v1h-1zM764 168h1v1h-1zM106 371h1v1h-1zM1167 371h1v1h-1zM1368 371h1v1h-1zM327 298h1v1h-1zM873 298h1v1h-1zM132 343h1v1h-1zM932 343h1v1h-1zM1010 343h1v1h-1zM314 311h1v1h-1zM883 311h1v1h-1zM884 312h1v1h-1zM609 228h1v1h-1zM329 296h1v1h-1zM85 398h1v1h-1zM1192 398h1v1h-1zM1341 398h1v1h-1zM32 436h1v1h-1zM627 209h1v1h-1zM797 209h1v1h-1zM606 231h1v1h-1zM790 202h1v1h-1zM849 265h1v1h-1zM340 285h1v1h-1zM863 285h1v1h-1zM302 321h1v1h-1zM46 426h1v1h-1zM307 317h1v1h-1zM889 317h1v1h-1zM610 227h1v1h-1zM356 268h1v1h-1zM29 438h1v1h-1zM644 188h1v1h-1zM778 187h1v2h-1zM625 211h1v1h-1zM799 211h1v1h-1zM84 399h1v1h-1zM1193 399h1v1h-1zM1340 399h1v1h-1zM309 315h1v1h-1zM887 315h1v1h-1zM658 175h1v1h-1zM769 175h1v2h-1zM89 393h1v1h-1zM1348 393h1v1h-1zM354 270h1v1h-1zM853 270h1v2h-1zM11 449h1v1h-1zM39 431h1v1h-1zM335 290h1v1h-1zM867 290h1v1h-1zM101 378h1v1h-1zM1173 378h1v1h-1zM1363 378h1v1h-1zM334 291h1v1h-1zM868 291h1v2h-1zM315 310h1v1h-1zM308 316h1v1h-1zM888 316h1v1h-1zM1194 400h1v1h-1zM45 427h1v1h-1zM784 195h1v1h-1zM346 279h1v1h-1zM859 279h1v1h-1zM53 421h1v1h-1zM645 187h1v1h-1zM28 439h1v1h-1zM353 271h1v1h-1zM36 433h1v1h-1zM657 176h1v1h-1zM0 455h1v1h-1zM42 429h1v1h-1zM50 423h1v1h-1zM621 216h1v1h-1zM804 216h1v1h-1zM333 292h1v1h-1zM25 441h1v1h-1zM35 434h1v1h-1zM49 424h1v1h-1z" fill="#3cb371"/>
<path d="M796 313h2v1h-2zM88 470h2v1h-2zM891 470h5v1h-5zM952 470h2v1h-2zM306 427h2v1h-2zM1078 427h2v1h-2zM1304 517h9v1h-9zM1333 517h2v1h-2zM150 446h2v1h-2zM162 446h11v1h-11zM250 423h3v1h-3zM1392 423h2v1h-2zM525 297h2v1h-2zM821 297h4v1h-4zM1117 458h4v1h-4zM155 444h3v1h-3zM175 444h2v1h-2zM995 444h2v1h-2zM192 440h5v1h-5zM1000 440h2v1h-2zM1009 433h2v1h-2zM493 288h6v1h-6zM506 288h4v1h-4zM485 284h2v1h-2zM10 536h2v1h-2zM40 536h2v1h-2zM583 329h2v1h-2zM101 485h4v1h-4zM109 485h2v1h-2zM253 422h2v1h-2zM298 422h2v1h-2zM325 422h2v1h-2zM1394 422h2v1h-2zM278 418h2v1h-2zM290 418h3v1h-3zM336 418h5v1h-5zM1249 510h23v1h-23zM920 475h5v1h-5zM942 475h2v1h-2zM1187 475h3v1h-3zM15 538h6v1h-6zM31 538h7v1h-7zM256 420h2v1h-2zM329 420h2v1h-2zM1038 391h4v1h-4zM1045 391h2v1h-2zM624 364h6v1h-6zM581 328h2v1h-2zM545 305h8v1h-8zM296 421h2v1h-2zM327 421h2v1h-2zM442 257h20v1h-20zM246 424h4v1h-4zM301 424h2v1h-2zM1390 424h2v1h-2zM1426 384h2v1h-2zM1089 431h4v1h-4zM717 239h2v1h-2zM883 466h2v1h-2zM960 466h2v1h-2zM1156 466h3v1h-3zM896 471h6v1h-6zM950 471h2v1h-2zM527 298h2v1h-2zM818 298h3v1h-3zM617 362h2v1h-2zM634 362h4v1h-4zM780 314h3v1h-3zM793 314h3v1h-3zM258 419h2v1h-2zM276 419h2v1h-2zM293 419h2v1h-2zM331 419h5v1h-5zM491 287h2v1h-2zM499 287h7v1h-7zM117 480h2v1h-2zM112 483h2v1h-2zM644 358h2v1h-2zM310 429h4v1h-4zM1082 429h2v1h-2zM144 449h2v1h-2zM206 449h4v1h-4zM1128 460h15v1h-15zM1171 460h3v1h-3zM529 299h2v1h-2zM816 299h2v1h-2zM925 476h5v1h-5zM936 476h6v1h-6zM1036 392h2v1h-2zM1047 392h2v1h-2zM510 289h3v1h-3zM984 452h2v1h-2zM575 324h2v1h-2zM640 360h2v1h-2zM314 430h3v1h-3zM1084 430h5v1h-5zM638 361h2v1h-2zM1219 507h2v1h-2zM914 474h6v1h-6zM944 474h2v1h-2zM881 465h2v1h-2zM962 465h2v1h-2zM1153 465h3v1h-3zM1159 465h2v1h-2zM416 273h2v1h-2zM267 414h2v1h-2zM521 295h2v1h-2zM1298 516h6v1h-6zM1335 516h2v1h-2zM968 462h2v1h-2zM1145 462h3v1h-3zM1166 462h2v1h-2zM1176 462h2v1h-2zM304 426h2v1h-2zM320 426h2v1h-2zM515 291h2v1h-2zM210 450h11v1h-11zM987 450h2v1h-2zM1224 511h2v1h-2zM1240 511h9v1h-9zM1272 511h9v1h-9zM105 486h4v1h-4zM902 472h6v1h-6zM948 472h2v1h-2zM152 445h3v1h-3zM158 445h4v1h-4zM173 445h2v1h-2zM226 445h2v1h-2zM1228 514h2v1h-2zM1291 514h3v1h-3zM1339 514h2v1h-2zM981 454h2v1h-2zM1110 454h2v1h-2zM261 417h2v1h-2zM280 417h3v1h-3zM286 417h4v1h-4zM122 477h2v1h-2zM930 477h6v1h-6zM1430 381h2v1h-2zM265 415h2v1h-2zM787 316h4v1h-4zM879 464h2v1h-2zM964 464h2v1h-2zM1151 464h2v1h-2zM1161 464h2v1h-2zM1180 464h2v1h-2zM1436 377h4v1h-4zM489 286h2v1h-2zM120 478h2v1h-2zM799 311h2v1h-2zM621 365h3v1h-3zM1042 390h3v1h-3zM539 304h6v1h-6zM808 304h2v1h-2zM1422 387h2v1h-2zM908 473h6v1h-6zM946 473h2v1h-2zM579 327h2v1h-2zM184 441h8v1h-8zM585 330h3v1h-3zM84 467h2v1h-2zM885 467h2v1h-2zM958 467h2v1h-2zM1049 393h2v1h-2zM588 331h2v1h-2zM478 279h2v1h-2zM177 443h2v1h-2zM179 442h5v1h-5zM1294 515h4v1h-4zM1337 515h2v1h-2zM114 482h2v1h-2zM630 363h4v1h-4zM146 448h2v1h-2zM204 448h2v1h-2zM222 448h2v1h-2zM1217 506h2v1h-2zM1313 518h8v1h-8zM1328 518h5v1h-5zM553 306h5v1h-5zM979 455h2v1h-2zM1230 513h4v1h-4zM1287 513h4v1h-4zM725 244h2v1h-2zM1440 376h5v1h-5zM966 463h2v1h-2zM1148 463h3v1h-3zM1163 463h3v1h-3zM1178 463h2v1h-2zM889 469h2v1h-2zM954 469h2v1h-2zM970 461h2v1h-2zM1143 461h2v1h-2zM1168 461h3v1h-3zM1174 461h2v1h-2zM308 428h2v1h-2zM1080 428h2v1h-2zM973 459h2v1h-2zM1121 459h7v1h-7zM148 447h2v1h-2zM991 447h2v1h-2zM976 457h2v1h-2zM1115 457h2v1h-2zM721 241h2v1h-2zM432 259h5v1h-5zM482 282h2v1h-2zM244 425h2v1h-2zM1005 436h2v1h-2zM141 451h2v1h-2zM523 296h2v1h-2zM12 537h3v1h-3zM38 537h2v1h-2zM537 303h2v1h-2zM1214 504h2v1h-2zM887 468h2v1h-2zM956 468h2v1h-2zM263 416h2v1h-2zM272 416h2v1h-2zM283 416h3v1h-3zM804 307h2v1h-2zM1234 512h6v1h-6zM1281 512h6v1h-6zM642 359h2v1h-2zM531 300h2v1h-2zM513 290h2v1h-2zM21 539h10v1h-10zM1434 378h2v1h-2zM1056 398h2v1h-2zM437 258h5v1h-5zM429 260h3v1h-3zM783 315h4v1h-4zM791 315h2v1h-2zM7 535h3v1h-3zM42 535h2v1h-2zM2 533h2v1h-2zM1321 519h7v1h-7zM533 301h2v1h-2zM813 301h2v1h-2zM1113 456h2v1h-2zM4 534h3v1h-3zM44 534h2v1h-2zM535 302h2v1h-2zM811 302h2v1h-2zM1051 394h2v1h-2zM49 530h2v1h-2zM487 285h2v1h-2zM518 293h2v1h-2zM719 240h2v1h-2zM0 532h2v1h-2zM392 313h1v2h-1zM564 313h1v1h-1zM679 313h1v1h-1zM779 313h1v1h-1zM830 309h1v6h-1zM377 349h1v2h-1zM604 349h1v1h-1zM652 349h1v1h-1zM837 348h1v3h-1zM388 321h1v2h-1zM573 322h1v1h-1zM674 322h1v1h-1zM832 320h1v5h-1zM82 470h1v2h-1zM127 470h1v2h-1zM1184 469h1v2h-1zM1364 469h1v3h-1zM77 480h1v3h-1zM98 481h1v1h-1zM116 481h1v1h-1zM1194 481h1v1h-1zM1359 481h1v2h-1zM357 386h1v2h-1zM847 384h1v4h-1zM1424 386h1v1h-1zM243 426h1v2h-1zM319 427h1v1h-1zM860 427h1v3h-1zM1014 427h1v2h-1zM1388 426h1v2h-1zM59 516h1v2h-1zM202 446h1v1h-1zM225 446h1v1h-1zM866 445h1v3h-1zM993 446h1v1h-1zM1103 446h1v1h-1zM1375 446h1v1h-1zM300 423h1v1h-1zM324 423h1v1h-1zM858 421h1v3h-1zM1017 422h1v2h-1zM1075 423h1v1h-1zM401 297h1v1h-1zM687 297h1v2h-1zM764 297h1v2h-1zM135 458h1v1h-1zM874 458h1v2h-1zM975 458h1v1h-1zM1369 457h1v3h-1zM382 334h1v3h-1zM592 334h1v2h-1zM665 335h1v1h-1zM834 331h1v6h-1zM200 444h1v1h-1zM228 444h1v1h-1zM865 442h1v3h-1zM1102 444h1v2h-1zM1376 444h1v2h-1zM232 440h1v1h-1zM864 439h1v3h-1zM1099 440h1v2h-1zM1379 439h1v2h-1zM394 309h1v2h-1zM560 309h1v1h-1zM681 309h1v2h-1zM775 309h1v1h-1zM802 309h1v1h-1zM344 410h1v2h-1zM854 409h1v3h-1zM1024 409h1v2h-1zM1066 410h1v1h-1zM1403 410h1v2h-1zM238 433h1v1h-1zM862 433h1v3h-1zM1093 432h1v2h-1zM1383 433h1v2h-1zM406 288h1v1h-1zM693 287h1v2h-1zM758 288h1v1h-1zM408 284h1v2h-1zM695 283h1v2h-1zM755 283h1v2h-1zM428 261h1v1h-1zM464 261h1v2h-1zM707 261h1v2h-1zM741 261h1v1h-1zM385 328h1v2h-1zM670 329h1v1h-1zM833 325h1v6h-1zM239 432h1v1h-1zM861 430h1v3h-1zM1011 432h1v1h-1zM1384 432h1v1h-1zM75 485h1v2h-1zM1198 485h1v1h-1zM1357 485h1v2h-1zM1074 421h1v2h-1zM235 437h1v1h-1zM863 436h1v3h-1zM1004 437h1v1h-1zM1096 436h1v2h-1zM1381 436h1v2h-1zM260 418h1v1h-1zM275 418h1v1h-1zM857 418h1v3h-1zM1019 418h1v2h-1zM1071 417h1v2h-1zM1398 418h1v1h-1zM63 509h1v2h-1zM1223 510h1v1h-1zM1343 509h1v2h-1zM80 474h1v2h-1zM94 475h1v2h-1zM125 474h1v2h-1zM1362 474h1v2h-1zM295 420h1v1h-1zM1018 420h1v2h-1zM1073 420h1v1h-1zM1397 419h1v2h-1zM355 390h1v2h-1zM849 391h1v4h-1zM1418 391h1v1h-1zM234 438h1v1h-1zM1003 438h1v1h-1zM1097 438h1v1h-1zM1380 438h1v1h-1zM369 364h1v2h-1zM620 364h1v1h-1zM841 361h1v4h-1zM671 327h1v2h-1zM397 304h1v2h-1zM683 305h1v2h-1zM771 305h1v1h-1zM807 305h1v1h-1zM829 304h1v5h-1zM393 311h1v2h-1zM563 312h1v1h-1zM680 311h1v2h-1zM778 312h1v1h-1zM798 312h1v1h-1zM255 421h1v1h-1zM1396 421h1v1h-1zM709 256h1v3h-1zM738 257h1v1h-1zM323 424h1v1h-1zM859 424h1v3h-1zM1016 424h1v1h-1zM1076 424h1v2h-1zM359 383h1v2h-1zM240 430h1v2h-1zM1012 431h1v1h-1zM1385 431h1v1h-1zM84 466h1v1h-1zM130 465h1v2h-1zM1182 465h1v2h-1zM1366 465h1v2h-1zM90 471h1v1h-1zM1185 471h1v2h-1zM400 298h1v2h-1zM825 298h1v1h-1zM370 362h1v2h-1zM565 314h1v1h-1zM678 314h1v2h-1zM418 272h1v1h-1zM472 272h1v1h-1zM702 271h1v2h-1zM748 272h1v1h-1zM1072 419h1v1h-1zM349 401h1v2h-1zM851 399h1v4h-1zM1029 401h1v1h-1zM1060 401h1v1h-1zM1410 401h1v1h-1zM407 286h1v2h-1zM757 286h1v2h-1zM714 245h1v2h-1zM728 246h1v1h-1zM97 479h1v2h-1zM1193 479h1v2h-1zM1360 479h1v2h-1zM76 483h1v2h-1zM100 483h1v2h-1zM1196 483h1v1h-1zM1358 483h1v2h-1zM373 357h1v2h-1zM613 358h1v1h-1zM840 358h1v3h-1zM241 429h1v1h-1zM317 429h1v1h-1zM1013 429h1v2h-1zM1386 429h1v2h-1zM221 449h1v1h-1zM867 448h1v3h-1zM989 449h1v1h-1zM1106 449h1v1h-1zM1373 449h1v2h-1zM134 459h1v2h-1zM875 460h1v1h-1zM972 460h1v1h-1zM1368 460h1v2h-1zM686 299h1v2h-1zM765 299h1v1h-1zM826 299h1v1h-1zM79 476h1v2h-1zM124 476h1v1h-1zM1190 476h1v1h-1zM1361 476h1v3h-1zM68 499h1v2h-1zM1211 500h1v1h-1zM1349 500h1v2h-1zM425 264h1v2h-1zM466 264h1v2h-1zM706 263h1v2h-1zM743 263h1v2h-1zM354 392h1v2h-1zM1417 392h1v2h-1zM405 289h1v2h-1zM692 289h1v1h-1zM759 289h1v2h-1zM381 337h1v3h-1zM594 337h1v1h-1zM663 337h1v2h-1zM835 337h1v6h-1zM140 452h1v1h-1zM868 451h1v2h-1zM1108 452h1v1h-1zM1372 451h1v2h-1zM403 293h1v2h-1zM520 294h1v1h-1zM689 294h1v2h-1zM762 294h1v2h-1zM387 323h1v2h-1zM673 323h1v2h-1zM372 359h1v2h-1zM615 360h1v1h-1zM420 270h1v1h-1zM470 270h1v1h-1zM703 269h1v2h-1zM747 270h1v2h-1zM389 319h1v2h-1zM570 319h1v1h-1zM676 318h1v2h-1zM831 315h1v5h-1zM371 361h1v1h-1zM616 361h1v1h-1zM64 507h1v2h-1zM1345 506h1v2h-1zM65 505h1v2h-1zM1216 505h1v1h-1zM1346 505h1v1h-1zM93 474h1v1h-1zM1186 473h1v2h-1zM473 273h1v2h-1zM701 273h1v1h-1zM749 273h1v2h-1zM351 397h1v2h-1zM850 395h1v4h-1zM1032 397h1v1h-1zM1055 397h1v1h-1zM1413 397h1v1h-1zM270 414h1v1h-1zM342 414h1v2h-1zM855 412h1v3h-1zM1022 413h1v2h-1zM1069 414h1v2h-1zM1401 413h1v2h-1zM395 308h1v1h-1zM559 308h1v1h-1zM682 307h1v2h-1zM774 308h1v1h-1zM803 308h1v1h-1zM402 295h1v2h-1zM710 254h1v2h-1zM736 254h1v1h-1zM132 462h1v1h-1zM877 462h1v1h-1zM1367 462h1v3h-1zM348 403h1v2h-1zM852 403h1v3h-1zM1027 403h1v2h-1zM1061 402h1v2h-1zM1408 403h1v2h-1zM1015 425h1v2h-1zM1077 426h1v1h-1zM404 291h1v2h-1zM691 290h1v2h-1zM760 291h1v1h-1zM143 450h1v1h-1zM1107 450h1v2h-1zM62 511h1v2h-1zM1342 511h1v1h-1zM1199 486h1v1h-1zM713 247h1v2h-1zM730 248h1v1h-1zM81 472h1v2h-1zM91 472h1v1h-1zM126 472h1v2h-1zM1363 472h1v2h-1zM346 407h1v1h-1zM853 406h1v3h-1zM1025 407h1v2h-1zM1064 407h1v1h-1zM1405 407h1v2h-1zM412 277h1v1h-1zM476 277h1v1h-1zM699 276h1v2h-1zM751 277h1v1h-1zM201 445h1v1h-1zM994 445h1v1h-1zM379 343h1v3h-1zM600 344h1v1h-1zM657 344h1v1h-1zM836 343h1v5h-1zM60 514h1v2h-1zM424 266h1v1h-1zM467 266h1v1h-1zM705 265h1v2h-1zM744 265h1v2h-1zM74 487h1v2h-1zM1200 487h1v1h-1zM1356 487h1v2h-1zM71 493h1v2h-1zM1206 493h1v2h-1zM1353 493h1v2h-1zM138 454h1v2h-1zM870 454h1v1h-1zM1371 453h1v2h-1zM274 417h1v1h-1zM341 416h1v2h-1zM856 415h1v3h-1zM1020 416h1v2h-1zM1399 416h1v2h-1zM95 477h1v1h-1zM1191 477h1v1h-1zM572 321h1v1h-1zM675 320h1v2h-1zM360 381h1v2h-1zM846 380h1v4h-1zM271 415h1v1h-1zM1021 415h1v1h-1zM1400 415h1v1h-1zM1201 488h1v1h-1zM391 315h1v2h-1zM567 316h1v1h-1zM677 316h1v2h-1zM131 463h1v2h-1zM362 377h1v2h-1zM845 376h1v4h-1zM343 412h1v2h-1zM1023 411h1v2h-1zM1067 411h1v2h-1zM1402 412h1v1h-1zM375 353h1v2h-1zM609 354h1v1h-1zM648 354h1v1h-1zM838 351h1v4h-1zM374 355h1v2h-1zM610 355h1v1h-1zM647 355h1v2h-1zM839 355h1v3h-1zM666 334h1v1h-1zM712 249h1v2h-1zM732 250h1v1h-1zM694 285h1v2h-1zM78 478h1v2h-1zM96 478h1v1h-1zM1192 478h1v1h-1zM562 311h1v1h-1zM777 311h1v1h-1zM842 365h1v4h-1zM848 388h1v3h-1zM1419 390h1v1h-1zM684 303h1v2h-1zM770 304h1v1h-1zM378 346h1v3h-1zM601 345h1v2h-1zM655 346h1v1h-1zM70 495h1v2h-1zM1207 495h1v1h-1zM1352 495h1v1h-1zM92 473h1v1h-1zM593 336h1v1h-1zM664 336h1v1h-1zM386 325h1v3h-1zM596 339h1v2h-1zM662 339h1v1h-1zM197 441h1v1h-1zM231 441h1v1h-1zM999 441h1v1h-1zM1378 441h1v2h-1zM73 489h1v2h-1zM1203 490h1v1h-1zM1355 489h1v2h-1zM352 396h1v1h-1zM1033 396h1v1h-1zM1054 396h1v1h-1zM1414 396h1v1h-1zM139 453h1v1h-1zM869 453h1v1h-1zM983 453h1v1h-1zM1109 453h1v1h-1zM656 345h1v1h-1zM345 408h1v2h-1zM1065 408h1v2h-1zM1404 409h1v1h-1zM384 330h1v2h-1zM669 330h1v1h-1zM69 497h1v2h-1zM1209 497h1v2h-1zM1351 496h1v2h-1zM129 467h1v2h-1zM1183 467h1v2h-1zM1365 467h1v2h-1zM390 317h1v2h-1zM569 318h1v1h-1zM1035 393h1v1h-1zM668 331h1v2h-1zM411 278h1v2h-1zM698 278h1v2h-1zM752 278h1v2h-1zM199 443h1v1h-1zM229 443h1v1h-1zM997 443h1v1h-1zM1101 443h1v1h-1zM1377 443h1v1h-1zM1221 508h1v1h-1zM1344 508h1v1h-1zM198 442h1v1h-1zM230 442h1v1h-1zM998 442h1v1h-1zM1100 442h1v1h-1zM119 479h1v1h-1zM595 338h1v1h-1zM611 356h1v1h-1zM99 482h1v1h-1zM1195 482h1v1h-1zM619 363h1v1h-1zM990 448h1v1h-1zM1105 448h1v1h-1zM1374 447h1v2h-1zM347 405h1v2h-1zM1026 405h1v2h-1zM1063 405h1v2h-1zM1406 406h1v1h-1zM353 394h1v2h-1zM1034 394h1v2h-1zM1053 395h1v1h-1zM1415 395h1v1h-1zM58 518h1v2h-1zM396 306h1v2h-1zM772 306h1v1h-1zM806 306h1v1h-1zM366 370h1v2h-1zM843 369h1v4h-1zM871 455h1v1h-1zM1112 455h1v1h-1zM1370 455h1v2h-1zM1028 402h1v1h-1zM1409 402h1v1h-1zM61 513h1v1h-1zM1227 513h1v1h-1zM1341 512h1v2h-1zM715 243h1v2h-1zM233 439h1v1h-1zM1002 439h1v1h-1zM1098 439h1v1h-1zM363 375h1v2h-1zM878 463h1v1h-1zM83 468h1v2h-1zM87 469h1v1h-1zM128 469h1v1h-1zM133 461h1v1h-1zM876 461h1v1h-1zM48 531h1v1h-1zM242 428h1v1h-1zM318 428h1v1h-1zM1387 428h1v1h-1zM571 320h1v1h-1zM203 447h1v1h-1zM224 447h1v1h-1zM1104 447h1v1h-1zM612 357h1v1h-1zM646 357h1v1h-1zM72 491h1v2h-1zM1205 492h1v1h-1zM1354 491h1v2h-1zM361 379h1v2h-1zM1432 380h1v1h-1zM55 523h1v2h-1zM136 457h1v1h-1zM873 457h1v1h-1zM716 241h1v2h-1zM1062 404h1v1h-1zM711 251h1v3h-1zM733 251h1v1h-1zM599 343h1v1h-1zM658 343h1v1h-1zM462 258h1v2h-1zM708 259h1v2h-1zM740 259h1v2h-1zM419 271h1v1h-1zM471 271h1v1h-1zM413 276h1v1h-1zM475 276h1v1h-1zM750 275h1v2h-1zM731 249h1v1h-1zM423 267h1v1h-1zM468 267h1v2h-1zM704 267h1v2h-1zM745 267h1v1h-1zM577 325h1v1h-1zM672 325h1v2h-1zM409 282h1v2h-1zM484 283h1v1h-1zM696 281h1v2h-1zM754 281h1v2h-1zM111 484h1v1h-1zM1197 484h1v1h-1zM578 326h1v1h-1zM303 425h1v1h-1zM322 425h1v1h-1zM1389 425h1v1h-1zM608 353h1v1h-1zM649 353h1v1h-1zM236 436h1v1h-1zM1428 383h1v1h-1zM67 501h1v2h-1zM1212 501h1v2h-1zM1348 502h1v1h-1zM986 451h1v1h-1zM1202 489h1v1h-1zM688 296h1v1h-1zM763 296h1v1h-1zM1208 496h1v1h-1zM237 434h1v2h-1zM1007 435h1v1h-1zM1095 435h1v1h-1zM1382 435h1v1h-1zM1407 405h1v1h-1zM368 366h1v2h-1zM603 348h1v1h-1zM653 348h1v1h-1zM380 340h1v3h-1zM597 341h1v1h-1zM660 341h1v1h-1zM398 302h1v2h-1zM769 303h1v1h-1zM810 303h1v1h-1zM828 301h1v3h-1zM66 503h1v2h-1zM1347 503h1v2h-1zM1204 491h1v1h-1zM477 278h1v1h-1zM86 468h1v1h-1zM561 310h1v1h-1zM776 310h1v1h-1zM801 310h1v1h-1zM1350 498h1v2h-1zM427 262h1v1h-1zM742 262h1v1h-1zM1429 382h1v1h-1zM1070 416h1v1h-1zM383 332h1v2h-1zM591 333h1v1h-1zM667 333h1v1h-1zM558 307h1v1h-1zM773 307h1v1h-1zM358 385h1v1h-1zM1425 385h1v1h-1zM1226 512h1v1h-1zM1433 379h1v1h-1zM614 359h1v1h-1zM410 280h1v2h-1zM480 280h1v1h-1zM697 280h1v1h-1zM753 280h1v1h-1zM399 300h1v2h-1zM766 300h1v1h-1zM815 300h1v1h-1zM827 300h1v1h-1zM590 332h1v1h-1zM481 281h1v1h-1zM57 520h1v1h-1zM53 527h1v1h-1zM737 255h1v2h-1zM1031 398h1v1h-1zM1412 398h1v1h-1zM739 258h1v1h-1zM365 372h1v1h-1zM364 373h1v2h-1zM844 373h1v3h-1zM356 388h1v2h-1zM1420 389h1v1h-1zM568 317h1v1h-1zM269 413h1v1h-1zM1068 413h1v1h-1zM463 260h1v1h-1zM574 323h1v1h-1zM566 315h1v1h-1zM517 292h1v1h-1zM690 292h1v2h-1zM761 292h1v2h-1zM735 253h1v1h-1zM661 340h1v1h-1zM1213 503h1v1h-1zM350 399h1v2h-1zM1030 399h1v2h-1zM1059 400h1v1h-1zM1411 399h1v2h-1zM422 268h1v1h-1zM746 268h1v2h-1zM723 242h1v1h-1zM46 533h1v1h-1zM414 275h1v1h-1zM474 275h1v1h-1zM700 274h1v2h-1zM685 301h1v2h-1zM767 301h1v1h-1zM137 456h1v1h-1zM872 456h1v1h-1zM978 456h1v1h-1zM1421 388h1v1h-1zM768 302h1v1h-1zM421 269h1v1h-1zM469 269h1v1h-1zM56 521h1v2h-1zM52 528h1v1h-1zM376 351h1v2h-1zM607 352h1v1h-1zM650 351h1v2h-1zM1416 394h1v1h-1zM1058 399h1v1h-1zM367 368h1v2h-1zM1008 434h1v1h-1zM1094 434h1v1h-1zM598 342h1v1h-1zM659 342h1v1h-1zM415 274h1v1h-1zM1210 499h1v1h-1zM426 263h1v1h-1zM465 263h1v1h-1zM1222 509h1v1h-1zM724 243h1v1h-1zM606 351h1v1h-1zM756 285h1v1h-1zM602 347h1v1h-1zM654 347h1v1h-1zM734 252h1v1h-1zM51 529h1v1h-1zM54 525h1v2h-1zM727 245h1v1h-1zM717 240h1v1h-1zM605 350h1v1h-1zM651 350h1v1h-1zM729 247h1v1h-1zM47 532h1v1h-1z" fill="#3cb371"/>
<rect x="4" y="365" width="1" height="14" fill="#000" />
<rect x="2" y="372" width="5" height="4" fill="#000" />
<rect x="12" y="353" width="1" height="26" fill="#000" />
<rect x="10" y="365" width="5" height="10" fill="#000" />
<rect x="11" y="366" width="3" height="8" fill="#fff" />
<rect x="20" y="362" width="1" height="25" fill="#000" />
<rect x="18" y="365" width="5" height="8" fill="#000" />
<rect x="28" y="350" width="1" height="32" fill="#000" />
<rect x="26" y="359" width="5" height="14" fill="#000" />
<rect x="27" y="360" width="3" height="12" fill="#fff" />
<rect x="36" y="352" width="1" height="28" fill="#000" />
<rect x="34" y="358" width="5" height="1" fill="#000" />
<rect x="44" y="352" width="1" height="23" fill="#000" />
<rect x="42" y="358" width="5" height="17" fill="#000" />
<rect x="52" y="364" width="1" height="16" fill="#000" />
<rect x="50" y="367" width="5" height="8" fill="#000" />
<rect x="51" y="368" width="3" height="6" fill="#fff" />
<rect x="60" y="355" width="1" height="16" fill="#000" />
<rect x="58" y="365" width="5" height="3" fill="#000" />
<rect x="59" y="366" width="3" height="1" fill="#fff" />
<rect x="68" y="357" width="1" height="47" fill="#000" />
<rect x="66" y="363" width="5" height="33" fill="#000" />
<rect x="76" y="386" width="1" height="16" fill="#000" />
<rect x="74" y="395" width="5" height="1" fill="#000" />
<rect x="84" y="387" width="1" height="35" fill="#000" />
<rect x="82" y="395" width="5" height="13" fill="#000" />
<rect x="92" y="257" width="1" height="155" fill="#000" />
<rect x="90" y="258" width="5" height="149" fill="#000" />
<rect x="91" y="259" width="3" height="147" fill="#fff" />
<rect x="100" y="225" width="1" height="35" fill="#000" />
<rect x="98" y="232" width="5" height="25" fill="#000" />
<rect x="99" y="233" width="3" height="23" fill="#fff" />
<rect x="108" y="222" width="1" height="41" fill="#000" />
<rect x="106" y="232" width="5" height="10" fill="#000" />
<rect x="116" y="233" width="1" height="36" fill="#000" />
<rect x="114" y="241" width="5" height="28" fill="#000" />
<rect x="124" y="232" width="1" height="45" fill="#000" />
<rect x="122" y="244" width="5" height="25" fill="#000" />
<rect x="123" y="245" width="3" height="23" fill="#fff" />
<rect x="132" y="242" width="1" height="106" fill="#000" />
<rect x="130" y="244" width="5" height="85" fill="#000" />
<rect x="140" y="320" width="1" height="31" fill="#000" />
<rect x="138" y="328" width="5" height="2" fill="#000" />
<rect x="148" y="318" width="1" height="20" fill="#000" />
<rect x="146" y="320" width="5" height="10" fill="#000" />
<rect x="147" y="321" width="3" height="8" fill="#fff" />
<rect x="156" y="318" width="1" height="35" fill="#000" />
<rect x="154" y="318" width="5" height="28" fill="#000" />
<rect x="164" y="335" width="1" height="61" fill="#000" />
<rect x="162" y="345" width="5" height="42" fill="#000" />
<rect x="172" y="338" width="1" height="51" fill="#000" />
<rect x="170" y="359" width="5" height="28" fill="#000" />
<rect x="171" y="360" width="3" height="26" fill="#fff" />
<rect x="180" y="288" width="1" height="87" fill="#000" />
<rect x="178" y="342" width="5" height="18" fill="#000" />
<rect x="179" y="343" width="3" height="16" fill="#fff" />
<rect x="188" y="332" width="1" height="29" fill="#000" />
<rect x="186" y="341" width="5" height="14" fill="#000" />
<rect x="196" y="338" width="1" height="14" fill="#000" />
<rect x="194" y="343" width="5" height="7" fill="#000" />
<rect x="195" y="344" width="3" height="5" fill="#fff" />
<rect x="204" y="334" width="1" height="105" fill="#000" />
<rect x="202" y="343" width="5" height="78" fill="#000" />
<rect x="212" y="370" width="1" height="65" fill="#000" />
<rect x="210" y="376" width="5" height="45" fill="#000" />
<rect x="211" y="377" width="3" height="43" fill="#fff" />
<rect x="220" y="353" width="1" height="47" fill="#000" />
<rect x="218" y="365" width="5" height="11" fill="#000" />
<rect x="219" y="366" width="3" height="9" fill="#fff" />
<rect x="228" y="317" width="1" height="52" fill="#000" />
<rect x="226" y="339" width="5" height="26" fill="#000" />
<rect x="227" y="340" width="3" height="24" fill="#fff" />
<rect x="236" y="322" width="1" height="35" fill="#000" />
<rect x="234" y="329" width="5" height="11" fill="#000" />
<rect x="235" y="330" width="3" height="9" fill="#fff" />
<rect x="244" y="308" width="1" height="22" fill="#000" />
<rect x="242" y="309" width="5" height="20" fill="#000" />
<rect x="243" y="310" width="3" height="18" fill="#fff" />
<rect x="252" y="290" width="1" height="53" fill="#000" />
<rect x="250" y="301" width="5" height="7" fill="#000" />
<rect x="251" y="302" width="3" height="5" fill="#fff" />
<rect x="260" y="278" width="1" height="37" fill="#000" />
<rect x="258" y="287" width="5" height="14" fill="#000" />
<rect x="259" y="288" width="3" height="12" fill="#fff" />
<rect x="268" y="279" width="1" height="29" fill="#000" />
<rect x="266" y="281" width="5" height="7" fill="#000" />
<rect x="267" y="282" width="3" height="5" fill="#fff" />
<rect x="276" y="227" width="1" height="57" fill="#000" />
<rect x="274" y="237" width="5" height="44" fill="#000" />
<rect x="275" y="238" width="3" height="42" fill="#fff" />
<rect x="284" y="232" width="1" height="37" fill="#000" />
<rect x="282" y="235" width="5" height="25" fill="#000" />
<rect x="292" y="249" width="1" height="15" fill="#000" />
<rect x="290" y="255" width="5" height="5" fill="#000" />
<rect x="291" y="256" width="3" height="3" fill="#fff" />
<rect x="300" y="215" width="1" height="41" fill="#000" />
<rect x="298" y="234" width="5" height="21" fill="#000" />
<rect x="299" y="235" width="3" height="19" fill="#fff" />
<rect x="308" y="202" width="1" height="32" fill="#000" />
<rect x="306" y="209" width="5" height="25" fill="#000" />
<rect x="307" y="210" width="3" height="23" fill="#fff" />
<rect x="316" y="166" width="1" height="88" fill="#000" />
<rect x="314" y="212" width="5" height="2" fill="#000" />
<rect x="324" y="203" width="1" height="47" fill="#000" />
<rect x="322" y="213" width="5" height="1" fill="#000" />
<rect x="332" y="185" width="1" height="30" fill="#000" />
<rect x="330" y="193" width="5" height="22" fill="#000" />
<rect x="331" y="194" width="3" height="20" fill="#fff" />
<rect x="340" y="180" width="1" height="18" fill="#000" />
<rect x="338" y="185" width="5" height="8" fill="#000" />
<rect x="339" y="186" width="3" height="6" fill="#fff" />
<rect x="348" y="164" width="1" height="31" fill="#000" />
<rect x="346" y="183" width="5" height="2" fill="#000" />
<rect x="356" y="182" width="1" height="52" fill="#000" />
<rect x="354" y="183" width="5" height="28" fill="#000" />
<rect x="364" y="202" width="1" height="33" fill="#000" />
<rect x="362" y="210" width="5" height="14" fill="#000" />
<rect x="372" y="204" width="1" height="44" fill="#000" />
<rect x="370" y="205" width="5" height="19" fill="#000" />
<rect x="371" y="206" width="3" height="17" fill="#fff" />
<rect x="380" y="204" width="1" height="15" fill="#000" />
<rect x="378" y="205" width="5" height="14" fill="#000" />
<rect x="388" y="200" width="1" height="20" fill="#000" />
<rect x="386" y="202" width="5" height="17" fill="#000" />
<rect x="387" y="203" width="3" height="15" fill="#fff" />
<rect x="396" y="190" width="1" height="27" fill="#000" />
<rect x="394" y="202" width="5" height="14" fill="#000" />
<rect x="404" y="210" width="1" height="29" fill="#000" />
<rect x="402" y="215" width="5" height="21" fill="#000" />
<rect x="412" y="227" width="1" height="24" fill="#000" />
<rect x="410" y="235" width="5" height="5" fill="#000" />
<rect x="420" y="226" width="1" height="63" fill="#000" />
<rect x="418" y="230" width="5" height="9" fill="#000" />
<rect x="419" y="231" width="3" height="7" fill="#fff" />
<rect x="428" y="210" width="1" height="20" fill="#000" />
<rect x="426" y="219" width="5" height="10" fill="#000" />
<rect x="427" y="220" width="3" height="8" fill="#fff" />
<rect x="436" y="218" width="1" height="12" fill="#000" />
<rect x="434" y="224" width="5" height="4" fill="#000" />
<rect x="435" y="225" width="3" height="2" fill="#fff" />
<rect x="444" y="218" width="1" height="42" fill="#000" />
<rect x="442" y="224" width="5" height="36" fill="#000" />
<rect x="452" y="239" width="1" height="24" fill="#000" />
<rect x="450" y="257" width="5" height="1" fill="#000" />
<rect x="460" y="197" width="1" height="61" fill="#000" />
<rect x="458" y="199" width="5" height="58" fill="#000" />
<rect x="459" y="200" width="3" height="56" fill="#fff" />
<rect x="468" y="191" width="1" height="92" fill="#000" />
<rect x="466" y="199" width="5" height="84" fill="#000" />
<rect x="476" y="263" width="1" height="23" fill="#000" />
<rect x="474" y="265" width="5" height="18" fill="#000" />
<rect x="475" y="266" width="3" height="16" fill="#fff" />
<rect x="484" y="259" width="1" height="14" fill="#000" />
<rect x="482" y="265" width="5" height="1" fill="#000" />
<rect x="492" y="257" width="1" height="38" fill="#000" />
<rect x="490" y="264" width="5" height="18" fill="#000" />
<rect x="500" y="246" width="1" height="37" fill="#000" />
<rect x="498" y="248" width="5" height="35" fill="#000" />
<rect x="499" y="249" width="3" height="33" fill="#fff" />
<rect x="508" y="234" width="1" height="50" fill="#000" />
<rect x="506" y="248" width="5" height="15" fill="#000" />
<rect x="516" y="239" width="1" height="60" fill="#000" />
<rect x="514" y="263" width="5" height="15" fill="#000" />
<rect x="524" y="273" width="1" height="15" fill="#000" />
<rect x="522" y="277" width="5" height="1" fill="#000" />
<rect x="532" y="273" width="1" height="20" fill="#000" />
<rect x="530" y="277" width="5" height="1" fill="#000" />
<rect x="540" y="266" width="1" height="31" fill="#000" />
<rect x="538" y="278" width="5" height="11" fill="#000" />
<rect x="548" y="267" width="1" height="29" fill="#000" />
<rect x="546" y="276" width="5" height="11" fill="#000" />
<rect x="547" y="277" width="3" height="9" fill="#fff" />
<rect x="556" y="272" width="1" height="29" fill="#000" />
<rect x="554" y="276" width="5" height="5" fill="#000" />
<rect x="564" y="173" width="1" height="110" fill="#000" />
<rect x="562" y="178" width="5" height="103" fill="#000" />
<rect x="563" y="179" width="3" height="101" fill="#fff" />
<rect x="572" y="163" width="1" height="24" fill="#000" />
<rect x="570" y="171" width="5" height="6" fill="#000" />
<rect x="571" y="172" width="3" height="4" fill="#fff" />
<rect x="580" y="159" width="1" height="15" fill="#000" />
<rect x="578" y="160" width="5" height="11" fill="#000" />
<rect x="579" y="161" width="3" height="9" fill="#fff" />
<rect x="588" y="154" width="1" height="27" fill="#000" />
<rect x="586" y="161" width="5" height="8" fill="#000" />
<rect x="596" y="132" width="1" height="38" fill="#000" />
<rect x="594" y="133" width="5" height="36" fill="#000" />
<rect x="595" y="134" width="3" height="34" fill="#fff" />
<rect x="604" y="63" width="1" height="71" fill="#000" />
<rect x="602" y="93" width="5" height="40" fill="#000" />
<rect x="603" y="94" width="3" height="38" fill="#fff" />
<rect x="612" y="66" width="1" height="51" fill="#000" />
<rect x="610" y="76" width="5" height="19" fill="#000" />
<rect x="611" y="77" width="3" height="17" fill="#fff" />
<rect x="620" y="60" width="1" height="22" fill="#000" />
<rect x="618" y="76" width="5" height="3" fill="#000" />
<rect x="628" y="71" width="1" height="13" fill="#000" />
<rect x="626" y="74" width="5" height="3" fill="#000" />
<rect x="627" y="75" width="3" height="1" fill="#fff" />
<rect x="636" y="57" width="1" height="22" fill="#000" />
<rect x="634" y="72" width="5" height="2" fill="#000" />
<rect x="644" y="57" width="1" height="21" fill="#000" />
<rect x="642" y="74" width="5" height="1" fill="#000" />
<rect x="652" y="71" width="1" height="42" fill="#000" />
<rect x="650" y="73" width="5" height="26" fill="#000" />
<rect x="660" y="67" width="1" height="90" fill="#000" />
<rect x="658" y="99" width="5" height="30" fill="#000" />
<rect x="668" y="127" width="1" height="70" fill="#000" />
<rect x="666" y="129" width="5" height="48" fill="#000" />
<rect x="676" y="155" width="1" height="9" fill="#000" />
<rect x="674" y="156" width="5" height="3" fill="#000" />
<rect x="684" y="149" width="1" height="28" fill="#000" />
<rect x="682" y="159" width="5" height="5" fill="#000" />
<rect x="692" y="158" width="1" height="49" fill="#000" />
<rect x="690" y="163" width="5" height="42" fill="#000" />
<rect x="700" y="201" width="1" height="25" fill="#000" />
<rect x="698" y="204" width="5" height="14" fill="#000" />
<rect x="708" y="190" width="1" height="28" fill="#000" />
<rect x="706" y="204" width="5" height="13" fill="#000" />
<rect x="707" y="205" width="3" height="11" fill="#fff" />
<rect x="716" y="193" width="1" height="19" fill="#000" />
<rect x="714" y="197" width="5" height="8" fill="#000" />
<rect x="715" y="198" width="3" height="6" fill="#fff" />
<rect x="724" y="189" width="1" height="18" fill="#000" />
<rect x="722" y="196" width="5" height="7" fill="#000" />
<rect x="732" y="200" width="1" height="29" fill="#000" />
<rect x="730" y="200" width="5" height="18" fill="#000" />
<rect x="740" y="203" width="1" height="33" fill="#000" />
<rect x="738" y="217" width="5" height="15" fill="#000" />
<rect x="748" y="214" width="1" height="50" fill="#000" />
<rect x="746" y="231" width="5" height="23" fill="#000" />
<rect x="756" y="225" width="1" height="56" fill="#000" />
<rect x="754" y="254" width="5" height="1" fill="#000" />
<rect x="764" y="248" width="1" height="17" fill="#000" />
<rect x="762" y="254" width="5" height="6" fill="#000" />
<rect x="772" y="252" width="1" height="20" fill="#000" />
<rect x="770" y="258" width="5" height="7" fill="#000" />
<rect x="780" y="261" width="1" height="45" fill="#000" />
<rect x="778" y="265" width="5" height="1" fill="#000" />
<rect x="788" y="238" width="1" height="52" fill="#000" />
<rect x="786" y="258" width="5" height="7" fill="#000" />
<rect x="787" y="259" width="3" height="5" fill="#fff" />
<rect x="796" y="223" width="1" height="35" fill="#000" />
<rect x="794" y="250" width="5" height="8" fill="#000" />
<rect x="795" y="251" width="3" height="6" fill="#fff" />
<rect x="804" y="223" width="1" height="61" fill="#000" />
<rect x="802" y="249" width="5" height="12" fill="#000" />
<rect x="812" y="240" width="1" height="38" fill="#000" />
<rect x="810" y="261" width="5" height="2" fill="#000" />
<rect x="820" y="251" width="1" height="16" fill="#000" />
<rect x="818" y="258" width="5" height="6" fill="#000" />
<rect x="819" y="259" width="3" height="4" fill="#fff" />
<rect x="828" y="255" width="1" height="45" fill="#000" />
<rect x="826" y="258" width="5" height="15" fill="#000" />
<rect x="836" y="272" width="1" height="158" fill="#000" />
<rect x="834" y="272" width="5" height="153" fill="#000" />
<rect x="844" y="373" width="1" height="69" fill="#000" />
<rect x="842" y="424" width="5" height="9" fill="#000" />
<rect x="852" y="412" width="1" height="64" fill="#000" />
<rect x="850" y="419" width="5" height="14" fill="#000" />
<rect x="851" y="420" width="3" height="12" fill="#fff" />
<rect x="860" y="409" width="1" height="20" fill="#000" />
<rect x="858" y="418" width="5" height="10" fill="#000" />
<rect x="868" y="414" width="1" height="49" fill="#000" />
<rect x="866" y="423" width="5" height="4" fill="#000" />
<rect x="867" y="424" width="3" height="2" fill="#fff" />
<rect x="876" y="390" width="1" height="41" fill="#000" />
<rect x="874" y="406" width="5" height="16" fill="#000" />
<rect x="875" y="407" width="3" height="14" fill="#fff" />
<rect x="884" y="357" width="1" height="53" fill="#000" />
<rect x="882" y="380" width="5" height="26" fill="#000" />
<rect x="883" y="381" width="3" height="24" fill="#fff" />
<rect x="892" y="355" width="1" height="49" fill="#000" />
<rect x="890" y="372" width="5" height="9" fill="#000" />
<rect x="891" y="373" width="3" height="7" fill="#fff" />
<rect x="900" y="332" width="1" height="65" fill="#000" />
<rect x="898" y="347" width="5" height="26" fill="#000" />
<rect x="899" y="348" width="3" height="24" fill="#fff" />
<rect x="908" y="340" width="1" height="16" fill="#000" />
<rect x="906" y="347" width="5" height="6" fill="#000" />
<rect x="916" y="337" width="1" height="19" fill="#000" />
<rect x="914" y="340" width="5" height="5" fill="#000" />
<rect x="915" y="341" width="3" height="3" fill="#fff" />
<rect x="924" y="333" width="1" height="49" fill="#000" />
<rect x="922" y="339" width="5" height="14" fill="#000" />
<rect x="932" y="328" width="1" height="54" fill="#000" />
<rect x="930" y="353" width="5" height="21" fill="#000" />
<rect x="940" y="331" width="1" height="57" fill="#000" />
<rect x="938" y="341" width="5" height="33" fill="#000" />
<rect x="939" y="342" width="3" height="31" fill="#fff" />
<rect x="948" y="306" width="1" height="58" fill="#000" />
<rect x="946" y="311" width="5" height="32" fill="#000" />
<rect x="947" y="312" width="3" height="30" fill="#fff" />
<rect x="956" y="304" width="1" height="18" fill="#000" />
<rect x="954" y="312" width="5" height="6" fill="#000" />
<rect x="964" y="310" width="1" height="13" fill="#000" />
<rect x="962" y="316" width="5" height="3" fill="#000" />
<rect x="972" y="297" width="1" height="30" fill="#000" />
<rect x="970" y="310" width="5" height="8" fill="#000" />
<rect x="971" y="311" width="3" height="6" fill="#fff" />
<rect x="980" y="295" width="1" height="27" fill="#000" />
<rect x="978" y="309" width="5" height="1" fill="#000" />
<rect x="988" y="300" width="1" height="45" fill="#000" />
<rect x="986" y="309" width="5" height="31" fill="#000" />
<rect x="996" y="274" width="1" height="69" fill="#000" />
<rect x="994" y="311" width="5" height="29" fill="#000" />
<rect x="995" y="312" width="3" height="27" fill="#fff" />
<rect x="1004" y="256" width="1" height="56" fill="#000" />
<rect x="1002" y="264" width="5" height="47" fill="#000" />
<rect x="1003" y="265" width="3" height="45" fill="#fff" />
<rect x="1012" y="256" width="1" height="12" fill="#000" />
<rect x="1010" y="264" width="5" height="2" fill="#000" />
<rect x="1020" y="246" width="1" height="47" fill="#000" />
<rect x="1018" y="265" width="5" height="21" fill="#000" />
<rect x="1028" y="279" width="1" height="23" fill="#000" />
<rect x="1026" y="283" width="5" height="3" fill="#000" />
<rect x="1027" y="284" width="3" height="1" fill="#fff" />
<rect x="1036" y="277" width="1" height="19" fill="#000" />
<rect x="1034" y="283" width="5" height="10" fill="#000" />
<rect x="1044" y="291" width="1" height="99" fill="#000" />
<rect x="1042" y="293" width="5" height="83" fill="#000" />
<rect x="1052" y="373" width="1" height="21" fill="#000" />
<rect x="1050" y="376" width="5" height="14" fill="#000" />
<rect x="1060" y="378" width="1" height="18" fill="#000" />
<rect x="1058" y="384" width="5" height="4" fill="#000" />
<rect x="1059" y="385" width="3" height="2" fill="#fff" />
<rect x="1068" y="380" width="1" height="39" fill="#000" />
<rect x="1066" y="384" width="5" height="28" fill="#000" />
<rect x="1076" y="404" width="1" height="29" fill="#000" />
<rect x="1074" y="411" width="5" height="18" fill="#000" />
<rect x="1084" y="374" width="1" height="65" fill="#000" />
<rect x="1082" y="384" width="5" height="45" fill="#000" />
<rect x="1083" y="385" width="3" height="43" fill="#fff" />
<rect x="1092" y="365" width="1" height="49" fill="#000" />
<rect x="1090" y="372" width="5" height="12" fill="#000" />
<rect x="1091" y="373" width="3" height="10" fill="#fff" />
<rect x="1100" y="371" width="1" height="56" fill="#000" />
<rect x="1098" y="372" width="5" height="54" fill="#000" />
<rect x="1108" y="412" width="1" height="19" fill="#000" />
<rect x="1106" y="425" width="5" height="1" fill="#000" />
<rect x="1116" y="370" width="1" height="67" fill="#000" />
<rect x="1114" y="394" width="5" height="33" fill="#000" />
<rect x="1115" y="395" width="3" height="31" fill="#fff" />
<rect x="1124" y="340" width="1" height="57" fill="#000" />
<rect x="1122" y="353" width="5" height="39" fill="#000" />
<rect x="1123" y="354" width="3" height="37" fill="#fff" />
<rect x="1132" y="336" width="1" height="36" fill="#000" />
<rect x="1130" y="345" width="5" height="8" fill="#000" />
<rect x="1131" y="346" width="3" height="6" fill="#fff" />
<rect x="1140" y="316" width="1" height="51" fill="#000" />
<rect x="1138" y="344" width="5" height="13" fill="#000" />
<rect x="1148" y="355" width="1" height="22" fill="#000" />
<rect x="1146" y="358" width="5" height="11" fill="#000" />
<rect x="1156" y="386" width="1" height="28" fill="#000" />
<rect x="1154" y="386" width="5" height="22" fill="#000" />
<rect x="1164" y="391" width="1" height="21" fill="#000" />
<rect x="1162" y="392" width="5" height="16" fill="#000" />
<rect x="1163" y="393" width="3" height="14" fill="#fff" />
<rect x="1172" y="378" width="1" height="47" fill="#000" />
<rect x="1170" y="392" width="5" height="23" fill="#000" />
<rect x="1180" y="403" width="1" height="56" fill="#000" />
<rect x="1178" y="414" width="5" height="35" fill="#000" />
<rect x="1188" y="447" width="1" height="121" fill="#000" />
<rect x="1186" y="449" width="5" height="39" fill="#000" />
<rect x="1196" y="479" width="1" height="35" fill="#000" />
<rect x="1194" y="486" width="5" height="3" fill="#000" />
<rect x="1195" y="487" width="3" height="1" fill="#fff" />
<rect x="1204" y="470" width="1" height="35" fill="#000" />
<rect x="1202" y="477" width="5" height="9" fill="#000" />
<rect x="1203" y="478" width="3" height="7" fill="#fff" />
<rect x="1212" y="461" width="1" height="46" fill="#000" />
<rect x="1210" y="476" width="5" height="19" fill="#000" />
<rect x="1220" y="441" width="1" height="67" fill="#000" />
<rect x="1218" y="456" width="5" height="39" fill="#000" />
<rect x="1219" y="457" width="3" height="37" fill="#fff" />
<rect x="1228" y="434" width="1" height="82" fill="#000" />
<rect x="1226" y="456" width="5" height="8" fill="#000" />
<rect x="1236" y="392" width="1" height="120" fill="#000" />
<rect x="1234" y="399" width="5" height="65" fill="#000" />
<rect x="1235" y="400" width="3" height="63" fill="#fff" />
<rect x="1244" y="395" width="1" height="26" fill="#000" />
<rect x="1242" y="400" width="5" height="18" fill="#000" />
<rect x="1252" y="396" width="1" height="23" fill="#000" />
<rect x="1250" y="399" width="5" height="18" fill="#000" />
<rect x="1251" y="400" width="3" height="16" fill="#fff" />
<rect x="1260" y="387" width="1" height="25" fill="#000" />
<rect x="1258" y="401" width="5" height="4" fill="#000" />
<rect x="1268" y="356" width="1" height="67" fill="#000" />
<rect x="1266" y="365" width="5" height="40" fill="#000" />
<rect x="1267" y="366" width="3" height="38" fill="#fff" />
<rect x="1276" y="348" width="1" height="36" fill="#000" />
<rect x="1274" y="365" width="5" height="4" fill="#000" />
<rect x="1284" y="308" width="1" height="62" fill="#000" />
<rect x="1282" y="340" width="5" height="29" fill="#000" />
<rect x="1283" y="341" width="3" height="27" fill="#fff" />
<rect x="1292" y="317" width="1" height="24" fill="#000" />
<rect x="1290" y="333" width="5" height="6" fill="#000" />
<rect x="1291" y="334" width="3" height="4" fill="#fff" />
<rect x="1300" y="324" width="1" height="12" fill="#000" />
<rect x="1298" y="332" width="5" height="3" fill="#000" />
<rect x="1308" y="331" width="1" height="36" fill="#000" />
<rect x="1306" y="334" width="5" height="25" fill="#000" />
<rect x="1316" y="330" width="1" height="39" fill="#000" />
<rect x="1314" y="337" width="5" height="22" fill="#000" />
<rect x="1315" y="338" width="3" height="20" fill="#fff" />
<rect x="1324" y="312" width="1" height="31" fill="#000" />
<rect x="1322" y="330" width="5" height="7" fill="#000" />
<rect x="1323" y="331" width="3" height="5" fill="#fff" />
<rect x="1332" y="330" width="1" height="50" fill="#000" />
<rect x="1330" y="330" width="5" height="30" fill="#000" />
<rect x="1340" y="342" width="1" height="28" fill="#000" />
<rect x="1338" y="356" width="5" height="4" fill="#000" />
<rect x="1339" y="357" width="3" height="2" fill="#fff" />
<rect x="1348" y="344" width="1" height="23" fill="#000" />
<rect x="1346" y="355" width="5" height="1" fill="#000" />
<rect x="1356" y="323" width="1" height="38" fill="#000" />
<rect x="1354" y="329" width="5" height="27" fill="#000" />
<rect x="1355" y="330" width="3" height="25" fill="#fff" />
<rect x="1364" y="310" width="1" height="25" fill="#000" />
<rect x="1362" y="319" width="5" height="11" fill="#000" />
<rect x="1363" y="320" width="3" height="9" fill="#fff" />
<rect x="1372" y="270" width="1" height="53" fill="#000" />
<rect x="1370" y="279" width="5" height="40" fill="#000" />
<rect x="1371" y="280" width="3" height="38" fill="#fff" />
<rect x="1380" y="265" width="1" height="42" fill="#000" />
<rect x="1378" y="278" width="5" height="5" fill="#000" />
<rect x="1388" y="270" width="1" height="18" fill="#000" />
<rect x="1386" y="277" width="5" height="6" fill="#000" />
<rect x="1387" y="278" width="3" height="4" fill="#fff" />
<rect x="1396" y="271" width="1" height="6" fill="#000" />
<rect x="1394" y="275" width="5" height="1" fill="#000" />
<rect x="1404" y="268" width="1" height="54" fill="#000" />
<rect x="1402" y="277" width="5" height="43" fill="#000" />
<rect x="1412" y="310" width="1" height="51" fill="#000" />
<rect x="1410" y="318" width="5" height="25" fill="#000" />
<rect x="1420" y="317" width="1" height="27" fill="#000" />
<rect x="1418" y="328" width="5" height="15" fill="#000" />
<rect x="1419" y="329" width="3" height="13" fill="#fff" />
<rect x="1428" y="302" width="1" height="45" fill="#000" />
<rect x="1426" y="323" width="5" height="6" fill="#000" />
<rect x="1427" y="324" width="3" height="4" fill="#fff" />
<rect x="1436" y="302" width="1" height="24" fill="#000" />
<rect x="1434" y="310" width="5" height="13" fill="#000" />
<rect x="1435" y="311" width="3" height="11" fill="#fff" />
<rect x="1444" y="306" width="1" height="5" fill="#000" />
<rect x="1442" y="310" width="5" height="1" fill="#000" />
</g>
<rect x="1342" y="296" width="193" height="6" fill="#00ff00" shape-rendering="crispEdges"/>
<g shape-rendering="crispEdges">
<rect x="0" y="28" width="1655" height="1" fill="#000" />
<rect x="0" y="581" width="1655" height="1" fill="#000" />
<rect x="1654" y="28" width="1" height="554" fill="#000" />
<rect x="0" y="583" width="1655" height="1" fill="#000" />
<rect x="0" y="753" width="1655" height="1" fill="#000" />
<rect x="1654" y="583" width="1" height="171" fill="#000" />
<rect x="0" y="755" width="1655" height="1" fill="#000" />
<rect x="0" y="929" width="1655" height="1" fill="#000" />
<rect x="1654" y="755" width="1" height="175" fill="#000" />
<rect x="1700" y="0" width="1" height="945" fill="#d8d8d8" />
<polygon points="1450,29 1459,29 1454.5,34" fill="#c0c0c0"/>
</g>
<g font-family="Liberation Sans, sans-serif">
<rect x="1655" y="50" width="2" height="1" fill="#000" shape-rendering="crispEdges"/>
<text x="1660.3" y="54" font-size="10" fill="#000" textLength="32.80" lengthAdjust="spacingAndGlyphs" text-anchor="start" stroke="#000" stroke-width="0.16" >111.685</text>
<rect x="1655" y="83" width="2" height="1" fill="#000" shape-rendering="crispEdges"/>
<text x="1660.3" y="87" font-size="10" fill="#000" textLength="32.80" lengthAdjust="spacingAndGlyphs" text-anchor="start" stroke="#000" stroke-width="0.16" >111.520</text>
<rect x="1655" y="116" width="2" height="1" fill="#000" shape-rendering="crispEdges"/>
<text x="1660.3" y="120" font-size="10" fill="#000" textLength="32.80" lengthAdjust="spacingAndGlyphs" text-anchor="start" stroke="#000" stroke-width="0.16" >111.350</text>
<rect x="1655" y="149" width="2" height="1" fill="#000" shape-rendering="crispEdges"/>
<text x="1660.3" y="153" font-size="10" fill="#000" textLength="32.80" lengthAdjust="spacingAndGlyphs" text-anchor="start" stroke="#000" stroke-width="0.16" >111.185</text>
<rect x="1655" y="182" width="2" height="1" fill="#000" shape-rendering="crispEdges"/>
<text x="1660.3" y="186" font-size="10" fill="#000" textLength="32.80" lengthAdjust="spacingAndGlyphs" text-anchor="start" stroke="#000" stroke-width="0.16" >111.015</text>
<rect x="1655" y="215" width="2" height="1" fill="#000" shape-rendering="crispEdges"/>
<text x="1660.3" y="219" font-size="10" fill="#000" textLength="32.80" lengthAdjust="spacingAndGlyphs" text-anchor="start" stroke="#000" stroke-width="0.16" >110.845</text>
<rect x="1655" y="248" width="2" height="1" fill="#000" shape-rendering="crispEdges"/>
<text x="1660.3" y="252" font-size="10" fill="#000" textLength="32.80" lengthAdjust="spacingAndGlyphs" text-anchor="start" stroke="#000" stroke-width="0.16" >110.680</text>
<rect x="1655" y="281" width="2" height="1" fill="#000" shape-rendering="crispEdges"/>
<text x="1660.3" y="285" font-size="10" fill="#000" textLength="32.80" lengthAdjust="spacingAndGlyphs" text-anchor="start" stroke="#000" stroke-width="0.16" >110.510</text>
<rect x="1655" y="314" width="2" height="1" fill="#000" shape-rendering="crispEdges"/>
<text x="1660.3" y="318" font-size="10" fill="#000" textLength="32.80" lengthAdjust="spacingAndGlyphs" text-anchor="start" stroke="#000" stroke-width="0.16" >110.345</text>
<rect x="1655" y="347" width="2" height="1" fill="#000" shape-rendering="crispEdges"/>
<text x="1660.3" y="351" font-size="10" fill="#000" textLength="32.80" lengthAdjust="spacingAndGlyphs" text-anchor="start" stroke="#000" stroke-width="0.16" >110.175</text>
<rect x="1655" y="380" width="2" height="1" fill="#000" shape-rendering="crispEdges"/>
<text x="1660.3" y="384" font-size="10" fill="#000" textLength="32.80" lengthAdjust="spacingAndGlyphs" text-anchor="start" stroke="#000" stroke-width="0.16" >110.010</text>
<rect x="1655" y="413" width="2" height="1" fill="#000" shape-rendering="crispEdges"/>
<text x="1660.3" y="417" font-size="10" fill="#000" textLength="32.80" lengthAdjust="spacingAndGlyphs" text-anchor="start" stroke="#000" stroke-width="0.16" >109.840</text>
<rect x="1655" y="446" width="2" height="1" fill="#000" shape-rendering="crispEdges"/>
<text x="1660.3" y="450" font-size="10" fill="#000" textLength="32.80" lengthAdjust="spacingAndGlyphs" text-anchor="start" stroke="#000" stroke-width="0.16" >109.675</text>
<rect x="1655" y="479" width="2" height="1" fill="#000" shape-rendering="crispEdges"/>
<text x="1660.3" y="483" font-size="10" fill="#000" textLength="32.80" lengthAdjust="spacingAndGlyphs" text-anchor="start" stroke="#000" stroke-width="0.16" >109.505</text>
<rect x="1655" y="512" width="2" height="1" fill="#000" shape-rendering="crispEdges"/>
<text x="1660.3" y="516" font-size="10" fill="#000" textLength="32.80" lengthAdjust="spacingAndGlyphs" text-anchor="start" stroke="#000" stroke-width="0.16" >109.340</text>
<rect x="1655" y="545" width="2" height="1" fill="#000" shape-rendering="crispEdges"/>
<text x="1660.3" y="549" font-size="10" fill="#000" textLength="32.80" lengthAdjust="spacingAndGlyphs" text-anchor="start" stroke="#000" stroke-width="0.16" >109.170</text>
<rect x="1655" y="578" width="2" height="1" fill="#000" shape-rendering="crispEdges"/>
<text x="1660.3" y="582" font-size="10" fill="#000" textLength="32.80" lengthAdjust="spacingAndGlyphs" text-anchor="start" stroke="#000" stroke-width="0.16" >109.005</text>
<rect x="1656" y="248" width="41" height="11" fill="#ff0000" shape-rendering="crispEdges"/>
<text x="1660.5" y="257.5" font-size="10" fill="#fff" textLength="32.30" lengthAdjust="spacingAndGlyphs" text-anchor="start" stroke="#fff" stroke-width="0.16" >110.649</text>
<rect x="1649.5" y="252.5" width="4" height="4" fill="#fff" stroke="#ff0000" stroke-width="1" shape-rendering="crispEdges"/>
<rect x="1656" y="272" width="41" height="11" fill="#ff0000" shape-rendering="crispEdges"/>
<text x="1660.5" y="281.5" font-size="10" fill="#fff" textLength="32.30" lengthAdjust="spacingAndGlyphs" text-anchor="start" stroke="#fff" stroke-width="0.16" >110.527</text>
<rect x="1649.5" y="276.5" width="4" height="4" fill="#fff" stroke="#ff0000" stroke-width="1" shape-rendering="crispEdges"/>
<rect x="1656" y="291" width="41" height="11" fill="#32cd32" shape-rendering="crispEdges"/>
<text x="1660.5" y="300.5" font-size="10" fill="#fff" textLength="32.30" lengthAdjust="spacingAndGlyphs" text-anchor="start" stroke="#fff" stroke-width="0.16" >110.431</text>
<rect x="1649.5" y="295.5" width="4" height="4" fill="#fff" stroke="#32cd32" stroke-width="1" shape-rendering="crispEdges"/>
<rect x="1656" y="306" width="41" height="11" fill="#000000" shape-rendering="crispEdges"/>
<text x="1660.5" y="315.5" font-size="10" fill="#fff" textLength="32.30" lengthAdjust="spacingAndGlyphs" text-anchor="start" stroke="#fff" stroke-width="0.16" >110.362</text>
<rect x="1656" y="331" width="41" height="11" fill="#0000ff" shape-rendering="crispEdges"/>
<text x="1660.5" y="340.5" font-size="10" fill="#fff" textLength="32.30" lengthAdjust="spacingAndGlyphs" text-anchor="start" stroke="#fff" stroke-width="0.16" >110.228</text>
<rect x="1649.5" y="335.5" width="4" height="4" fill="#fff" stroke="#0000ff" stroke-width="1" shape-rendering="crispEdges"/>
<rect x="1656" y="354" width="41" height="11" fill="#0000ff" shape-rendering="crispEdges"/>
<text x="1660.5" y="363.5" font-size="10" fill="#fff" textLength="32.30" lengthAdjust="spacingAndGlyphs" text-anchor="start" stroke="#fff" stroke-width="0.16" >110.111</text>
<rect x="1649.5" y="358.5" width="4" height="4" fill="#fff" stroke="#0000ff" stroke-width="1" shape-rendering="crispEdges"/>
</g>
<g clip-path="url(#cmacd)">
<g shape-rendering="crispEdges">
<rect x="4" y="631" width="1" height="31" fill="#c0c0c0" />
<rect x="12" y="626" width="1" height="36" fill="#c0c0c0" />
<rect x="20" y="624" width="1" height="38" fill="#c0c0c0" />
<rect x="28" y="622" width="1" height="40" fill="#c0c0c0" />
<rect x="36" y="620" width="1" height="42" fill="#c0c0c0" />
<rect x="44" y="621" width="1" height="41" fill="#c0c0c0" />
<rect x="52" y="621" width="1" height="41" fill="#c0c0c0" />
<rect x="60" y="621" width="1" height="41" fill="#c0c0c0" />
<rect x="68" y="626" width="1" height="36" fill="#c0c0c0" />
<rect x="76" y="629" width="1" height="33" fill="#c0c0c0" />
<rect x="84" y="634" width="1" height="28" fill="#c0c0c0" />
<rect x="92" y="621" width="1" height="41" fill="#c0c0c0" />
<rect x="100" y="609" width="1" height="53" fill="#c0c0c0" />
<rect x="108" y="600" width="1" height="62" fill="#c0c0c0" />
<rect x="116" y="598" width="1" height="64" fill="#c0c0c0" />
<rect x="124" y="595" width="1" height="67" fill="#c0c0c0" />
<rect x="132" y="601" width="1" height="61" fill="#c0c0c0" />
<rect x="140" y="607" width="1" height="55" fill="#c0c0c0" />
<rect x="148" y="612" width="1" height="50" fill="#c0c0c0" />
<rect x="156" y="619" width="1" height="43" fill="#c0c0c0" />
<rect x="164" y="629" width="1" height="33" fill="#c0c0c0" />
<rect x="172" y="635" width="1" height="27" fill="#c0c0c0" />
<rect x="180" y="638" width="1" height="24" fill="#c0c0c0" />
<rect x="188" y="642" width="1" height="20" fill="#c0c0c0" />
<rect x="196" y="644" width="1" height="18" fill="#c0c0c0" />
<rect x="204" y="654" width="1" height="8" fill="#c0c0c0" />
<rect x="212" y="658" width="1" height="4" fill="#c0c0c0" />
<rect x="220" y="659" width="1" height="3" fill="#c0c0c0" />
<rect x="228" y="657" width="1" height="5" fill="#c0c0c0" />
<rect x="236" y="655" width="1" height="7" fill="#c0c0c0" />
<rect x="244" y="651" width="1" height="11" fill="#c0c0c0" />
<rect x="252" y="647" width="1" height="15" fill="#c0c0c0" />
<rect x="260" y="642" width="1" height="20" fill="#c0c0c0" />
<rect x="268" y="638" width="1" height="24" fill="#c0c0c0" />
<rect x="276" y="630" width="1" height="32" fill="#c0c0c0" />
<rect x="284" y="627" width="1" height="35" fill="#c0c0c0" />
<rect x="292" y="624" width="1" height="38" fill="#c0c0c0" />
<rect x="300" y="620" width="1" height="42" fill="#c0c0c0" />
<rect x="308" y="615" width="1" height="47" fill="#c0c0c0" />
<rect x="316" y="611" width="1" height="51" fill="#c0c0c0" />
<rect x="324" y="610" width="1" height="52" fill="#c0c0c0" />
<rect x="332" y="606" width="1" height="56" fill="#c0c0c0" />
<rect x="340" y="603" width="1" height="59" fill="#c0c0c0" />
<rect x="348" y="602" width="1" height="60" fill="#c0c0c0" />
<rect x="356" y="604" width="1" height="58" fill="#c0c0c0" />
<rect x="364" y="608" width="1" height="54" fill="#c0c0c0" />
<rect x="372" y="610" width="1" height="52" fill="#c0c0c0" />
<rect x="380" y="613" width="1" height="49" fill="#c0c0c0" />
<rect x="388" y="614" width="1" height="48" fill="#c0c0c0" />
<rect x="396" y="618" width="1" height="44" fill="#c0c0c0" />
<rect x="404" y="623" width="1" height="39" fill="#c0c0c0" />
<rect x="412" y="628" width="1" height="34" fill="#c0c0c0" />
<rect x="420" y="631" width="1" height="31" fill="#c0c0c0" />
<rect x="428" y="633" width="1" height="29" fill="#c0c0c0" />
<rect x="436" y="635" width="1" height="27" fill="#c0c0c0" />
<rect x="444" y="641" width="1" height="21" fill="#c0c0c0" />
<rect x="452" y="646" width="1" height="16" fill="#c0c0c0" />
<rect x="460" y="643" width="1" height="19" fill="#c0c0c0" />
<rect x="468" y="651" width="1" height="11" fill="#c0c0c0" />
<rect x="476" y="655" width="1" height="7" fill="#c0c0c0" />
<rect x="484" y="658" width="1" height="4" fill="#c0c0c0" />
<rect x="508" y="661" width="1" height="3" fill="#c0c0c0" />
<rect x="516" y="661" width="1" height="6" fill="#c0c0c0" />
<rect x="524" y="661" width="1" height="8" fill="#c0c0c0" />
<rect x="532" y="661" width="1" height="9" fill="#c0c0c0" />
<rect x="540" y="661" width="1" height="12" fill="#c0c0c0" />
<rect x="548" y="661" width="1" height="12" fill="#c0c0c0" />
<rect x="556" y="661" width="1" height="13" fill="#c0c0c0" />
<rect x="572" y="653" width="1" height="9" fill="#c0c0c0" />
<rect x="580" y="644" width="1" height="18" fill="#c0c0c0" />
<rect x="588" y="639" width="1" height="23" fill="#c0c0c0" />
<rect x="596" y="631" width="1" height="31" fill="#c0c0c0" />
<rect x="604" y="620" width="1" height="42" fill="#c0c0c0" />
<rect x="612" y="610" width="1" height="52" fill="#c0c0c0" />
<rect x="620" y="603" width="1" height="59" fill="#c0c0c0" />
<rect x="628" y="598" width="1" height="64" fill="#c0c0c0" />
<rect x="636" y="595" width="1" height="67" fill="#c0c0c0" />
<rect x="644" y="593" width="1" height="69" fill="#c0c0c0" />
<rect x="652" y="595" width="1" height="67" fill="#c0c0c0" />
<rect x="660" y="601" width="1" height="61" fill="#c0c0c0" />
<rect x="668" y="612" width="1" height="50" fill="#c0c0c0" />
<rect x="676" y="619" width="1" height="43" fill="#c0c0c0" />
<rect x="684" y="625" width="1" height="37" fill="#c0c0c0" />
<rect x="692" y="636" width="1" height="26" fill="#c0c0c0" />
<rect x="700" y="645" width="1" height="17" fill="#c0c0c0" />
<rect x="708" y="652" width="1" height="10" fill="#c0c0c0" />
<rect x="716" y="656" width="1" height="6" fill="#c0c0c0" />
<rect x="724" y="660" width="1" height="2" fill="#c0c0c0" />
<rect x="732" y="661" width="1" height="4" fill="#c0c0c0" />
<rect x="740" y="661" width="1" height="9" fill="#c0c0c0" />
<rect x="748" y="661" width="1" height="16" fill="#c0c0c0" />
<rect x="756" y="661" width="1" height="21" fill="#c0c0c0" />
<rect x="764" y="661" width="1" height="25" fill="#c0c0c0" />
<rect x="772" y="661" width="1" height="29" fill="#c0c0c0" />
<rect x="780" y="661" width="1" height="32" fill="#c0c0c0" />
<rect x="788" y="661" width="1" height="32" fill="#c0c0c0" />
<rect x="796" y="661" width="1" height="32" fill="#c0c0c0" />
<rect x="804" y="661" width="1" height="33" fill="#c0c0c0" />
<rect x="812" y="661" width="1" height="33" fill="#c0c0c0" />
<rect x="820" y="661" width="1" height="30" fill="#c0c0c0" />
<rect x="828" y="661" width="1" height="30" fill="#c0c0c0" />
<rect x="836" y="661" width="1" height="51" fill="#c0c0c0" />
<rect x="844" y="661" width="1" height="65" fill="#c0c0c0" />
<rect x="852" y="661" width="1" height="72" fill="#c0c0c0" />
<rect x="860" y="661" width="1" height="80" fill="#c0c0c0" />
<rect x="868" y="661" width="1" height="84" fill="#c0c0c0" />
<rect x="876" y="661" width="1" height="84" fill="#c0c0c0" />
<rect x="884" y="661" width="1" height="80" fill="#c0c0c0" />
<rect x="892" y="661" width="1" height="76" fill="#c0c0c0" />
<rect x="900" y="661" width="1" height="68" fill="#c0c0c0" />
<rect x="908" y="661" width="1" height="62" fill="#c0c0c0" />
<rect x="916" y="661" width="1" height="57" fill="#c0c0c0" />
<rect x="924" y="661" width="1" height="52" fill="#c0c0c0" />
<rect x="932" y="661" width="1" height="49" fill="#c0c0c0" />
<rect x="940" y="661" width="1" height="44" fill="#c0c0c0" />
<rect x="948" y="661" width="1" height="37" fill="#c0c0c0" />
<rect x="956" y="661" width="1" height="30" fill="#c0c0c0" />
<rect x="964" y="661" width="1" height="24" fill="#c0c0c0" />
<rect x="972" y="661" width="1" height="20" fill="#c0c0c0" />
<rect x="980" y="661" width="1" height="16" fill="#c0c0c0" />
<rect x="988" y="661" width="1" height="15" fill="#c0c0c0" />
<rect x="996" y="661" width="1" height="12" fill="#c0c0c0" />
<rect x="1004" y="660" width="1" height="2" fill="#c0c0c0" />
<rect x="1012" y="659" width="1" height="3" fill="#c0c0c0" />
<rect x="1020" y="656" width="1" height="6" fill="#c0c0c0" />
<rect x="1028" y="654" width="1" height="8" fill="#c0c0c0" />
<rect x="1036" y="653" width="1" height="9" fill="#c0c0c0" />
<rect x="1052" y="661" width="1" height="10" fill="#c0c0c0" />
<rect x="1060" y="661" width="1" height="16" fill="#c0c0c0" />
<rect x="1068" y="661" width="1" height="24" fill="#c0c0c0" />
<rect x="1076" y="661" width="1" height="30" fill="#c0c0c0" />
<rect x="1084" y="661" width="1" height="32" fill="#c0c0c0" />
<rect x="1092" y="661" width="1" height="31" fill="#c0c0c0" />
<rect x="1100" y="661" width="1" height="36" fill="#c0c0c0" />
<rect x="1108" y="661" width="1" height="38" fill="#c0c0c0" />
<rect x="1116" y="661" width="1" height="38" fill="#c0c0c0" />
<rect x="1124" y="661" width="1" height="30" fill="#c0c0c0" />
<rect x="1132" y="661" width="1" height="24" fill="#c0c0c0" />
<rect x="1140" y="661" width="1" height="22" fill="#c0c0c0" />
<rect x="1148" y="661" width="1" height="20" fill="#c0c0c0" />
<rect x="1156" y="661" width="1" height="22" fill="#c0c0c0" />
<rect x="1164" y="661" width="1" height="22" fill="#c0c0c0" />
<rect x="1172" y="661" width="1" height="26" fill="#c0c0c0" />
<rect x="1180" y="661" width="1" height="30" fill="#c0c0c0" />
<rect x="1188" y="661" width="1" height="39" fill="#c0c0c0" />
<rect x="1196" y="661" width="1" height="46" fill="#c0c0c0" />
<rect x="1204" y="661" width="1" height="48" fill="#c0c0c0" />
<rect x="1212" y="661" width="1" height="52" fill="#c0c0c0" />
<rect x="1220" y="661" width="1" height="50" fill="#c0c0c0" />
<rect x="1228" y="661" width="1" height="50" fill="#c0c0c0" />
<rect x="1236" y="661" width="1" height="40" fill="#c0c0c0" />
<rect x="1244" y="661" width="1" height="34" fill="#c0c0c0" />
<rect x="1252" y="661" width="1" height="28" fill="#c0c0c0" />
<rect x="1260" y="661" width="1" height="20" fill="#c0c0c0" />
<rect x="1268" y="661" width="1" height="16" fill="#c0c0c0" />
<rect x="1276" y="661" width="1" height="9" fill="#c0c0c0" />
<rect x="1292" y="654" width="1" height="8" fill="#c0c0c0" />
<rect x="1300" y="649" width="1" height="13" fill="#c0c0c0" />
<rect x="1308" y="647" width="1" height="15" fill="#c0c0c0" />
<rect x="1316" y="644" width="1" height="18" fill="#c0c0c0" />
<rect x="1324" y="641" width="1" height="21" fill="#c0c0c0" />
<rect x="1332" y="642" width="1" height="20" fill="#c0c0c0" />
<rect x="1340" y="642" width="1" height="20" fill="#c0c0c0" />
<rect x="1348" y="643" width="1" height="19" fill="#c0c0c0" />
<rect x="1356" y="641" width="1" height="21" fill="#c0c0c0" />
<rect x="1364" y="637" width="1" height="25" fill="#c0c0c0" />
<rect x="1372" y="632" width="1" height="30" fill="#c0c0c0" />
<rect x="1380" y="628" width="1" height="34" fill="#c0c0c0" />
<rect x="1388" y="624" width="1" height="38" fill="#c0c0c0" />
<rect x="1396" y="621" width="1" height="41" fill="#c0c0c0" />
<rect x="1404" y="625" width="1" height="37" fill="#c0c0c0" />
<rect x="1412" y="631" width="1" height="31" fill="#c0c0c0" />
<rect x="1420" y="634" width="1" height="28" fill="#c0c0c0" />
<rect x="1428" y="635" width="1" height="27" fill="#c0c0c0" />
<rect x="1436" y="635" width="1" height="27" fill="#c0c0c0" />
<rect x="1444" y="636" width="1" height="26" fill="#c0c0c0" />
</g>
<polyline points="2.5,649.2 12.5,643.8 20.5,639.5 28.5,635.8 36.5,632.0 44.5,628.8 52.5,626.2 60.5,623.8 68.5,622.5 76.5,622.5 84.5,623.2 92.5,623.0 100.5,621.2 108.5,619.5 116.5,617.5 124.5,613.8 132.5,611.2 140.5,609.2 148.5,607.5 156.5,606.8 164.5,606.8 172.5,610.0 180.5,614.5 188.5,619.2 196.5,623.8 204.5,629.5 212.5,635.8 220.5,640.5 228.5,645.0 236.5,647.5 244.5,649.2 252.5,650.8 260.5,651.2 268.5,650.5 276.5,647.5 284.5,643.8 292.5,639.5 300.5,635.5 308.5,631.8 316.5,627.5 324.5,623.8 332.5,618.8 340.5,615.0 348.5,612.5 356.5,610.8 364.5,608.2 372.5,607.5 380.5,606.8 388.5,607.5 396.5,608.2 404.5,609.2 412.5,612.5 420.5,615.0 428.5,619.2 436.5,622.5 444.5,625.8 452.5,629.5 460.5,632.5 468.5,636.2 476.5,639.5 484.5,643.0 492.5,646.8 500.5,648.8 508.5,653.2 516.5,655.5 524.5,657.5 532.5,661.8 540.5,663.0 548.5,666.2 556.5,667.5 564.5,667.0 572.5,665.5 580.5,663.8 588.5,661.8 596.5,657.5 604.5,651.2 612.5,645.0 620.5,636.2 628.5,628.2 636.5,621.2 644.5,613.8 652.5,608.0 660.5,603.8 668.5,602.5 676.5,602.5 684.5,604.2 692.5,606.8 700.5,612.5 708.5,618.8 716.5,625.8 724.5,633.2 732.5,640.5 740.5,647.5 748.5,652.5 756.5,658.8 764.5,665.0 772.5,670.0 780.5,675.0 788.5,679.5 796.5,682.5 804.5,686.2 812.5,688.2 820.5,690.0 828.5,691.8 836.5,693.0 844.5,697.5 852.5,703.8 860.5,708.8 868.5,713.8 876.5,720.0 884.5,725.8 892.5,730.0 900.5,733.8 908.5,735.0 916.5,734.2 924.5,732.0 932.5,728.8 940.5,724.5 948.5,719.2 956.5,713.8 964.5,708.8 972.5,702.5 980.5,696.8 988.5,692.5 996.5,688.8 1004.5,683.0 1012.5,677.0 1020.5,673.2 1028.5,669.5 1036.5,665.5 1044.5,663.2 1052.5,662.0 1060.5,662.0 1068.5,663.0 1076.5,667.0 1084.5,670.5 1092.5,673.8 1100.5,679.5 1108.5,684.2 1116.5,688.8 1124.5,691.2 1132.5,692.0 1140.5,691.8 1148.5,690.8 1156.5,689.5 1164.5,688.8 1172.5,687.5 1180.5,687.5 1188.5,687.5 1196.5,688.0 1204.5,691.2 1212.5,694.5 1220.5,698.0 1228.5,701.8 1236.5,703.2 1244.5,704.2 1252.5,704.2 1260.5,701.2 1268.5,697.5 1276.5,694.7 1284.5,687.7 1292.5,679.7 1300.5,673.9 1308.6,667.7 1316.6,661.4 1324.6,656.4 1332.6,651.4 1340.6,647.6 1348.6,644.6 1356.4,642.6 1364.4,641.4 1372.4,638.9 1380.4,637.1 1388.4,635.6 1396.5,634.4 1404.5,631.3 1412.5,629.3 1420.5,628.8 1428.5,629.3 1436.5,629.3 1444.5,629.3" fill="none" stroke="#ff0000" stroke-width="1" stroke-dasharray="3 3" shape-rendering="crispEdges"/>
</g>
<g clip-path="url(#crsi)">
<line x1="3" y1="791.5" x2="1654" y2="791.5" stroke="#c0c0c0" stroke-width="1" stroke-dasharray="3 3" shape-rendering="crispEdges"/>
<line x1="3" y1="842.5" x2="1654" y2="842.5" stroke="#c0c0c0" stroke-width="1" stroke-dasharray="3 3" shape-rendering="crispEdges"/>
<line x1="3" y1="903.5" x2="1654" y2="903.5" stroke="#c0c0c0" stroke-width="1" stroke-dasharray="3 3" shape-rendering="crispEdges"/>
<polyline points="0.0,810.5 4.5,811.2 12.5,809.2 20.5,813.2 28.5,809.2 36.5,809.2 44.5,819.2 52.5,817.2 60.5,816.2 68.5,834.2 76.5,834.2 84.5,841.2 92.5,800.8 100.5,797.2 108.5,801.2 116.5,812.2 124.5,808.2 132.5,835.2 140.5,835.2 148.5,833.2 156.5,840.2 164.5,851.2 172.5,843.2 180.5,839.2 188.5,842.2 196.5,840.2 204.5,858.2 212.5,846.2 220.5,844.2 228.5,838.2 236.5,835.0 244.5,831.2 252.5,829.2 260.5,826.5 268.5,825.2 276.5,815.2 284.5,824.2 292.5,822.2 300.5,818.2 308.5,813.2 316.5,815.2 324.5,815.2 332.5,811.2 340.5,809.2 348.5,809.2 356.5,821.2 364.5,827.2 372.5,822.2 380.5,827.2 388.5,823.2 396.5,828.2 404.5,837.2 412.5,838.2 420.5,835.0 428.5,831.2 436.5,833.2 444.5,848.2 452.5,847.2 460.5,827.2 468.5,853.2 476.5,848.2 484.5,848.2 492.5,852.2 500.5,842.2 508.5,846.2 516.5,850.2 524.5,850.2 532.5,851.2 540.5,854.2 548.5,849.2 556.5,850.2 564.5,819.2 572.5,817.2 580.5,815.2 588.5,819.2 596.5,810.2 604.5,804.2 612.5,801.2 620.5,802.2 628.5,801.2 636.5,801.2 644.5,802.2 652.5,815.2 660.5,828.2 668.5,845.2 676.5,840.2 684.5,841.2 692.5,854.2 700.5,857.2 708.5,852.2 716.5,850.2 724.5,852.2 732.5,856.2 740.5,860.2 748.5,867.2 756.5,867.2 764.5,868.2 772.5,870.2 780.5,870.2 788.5,866.2 796.5,860.2 804.5,865.2 812.5,866.2 820.5,862.2 828.5,868.2 836.5,898.2 844.5,899.2 852.5,892.2 860.5,893.2 868.5,891.2 876.5,882.2 884.5,870.2 892.5,866.2 900.5,856.2 908.5,857.2 916.5,852.2 924.5,856.2 932.5,863.2 940.5,850.2 948.5,839.2 956.5,841.2 964.5,841.2 972.5,838.2 980.5,838.2 988.5,850.2 996.5,839.2 1004.5,825.2 1012.5,825.2 1020.5,833.2 1028.5,832.2 1036.5,836.2 1044.5,862.2 1052.5,865.2 1060.5,863.2 1068.5,870.2 1076.5,873.2 1084.5,856.2 1092.5,852.2 1100.5,864.2 1108.5,865.2 1116.5,853.2 1124.5,841.2 1132.5,839.2 1140.5,843.2 1148.5,846.2 1156.5,856.2 1164.5,851.2 1172.5,856.2 1180.5,864.2 1188.5,872.2 1196.5,871.2 1204.5,867.2 1212.5,871.2 1220.5,857.2 1228.5,859.2 1236.5,840.2 1244.5,845.2 1252.5,840.2 1260.5,841.2 1268.5,831.2 1276.5,832.2 1284.5,825.2 1292.5,824.2 1300.5,824.2 1308.5,833.2 1316.5,828.2 1324.5,826.2 1332.5,837.2 1340.5,835.2 1348.5,835.2 1356.5,828.2 1364.5,824.2 1372.5,814.2 1380.5,816.2 1388.5,814.2 1396.5,815.2 1404.5,832.2 1412.5,842.2 1420.5,837.2 1428.5,836.2 1436.5,831.2 1444.5,832.2" fill="none" stroke="#1e90ff" stroke-width="1" shape-rendering="crispEdges"/>
</g>
<g font-family="Liberation Sans, sans-serif">
<rect x="1655" y="585" width="2" height="1" fill="#000" shape-rendering="crispEdges"/>
<text x="1658.2" y="594" font-size="10" fill="#000" textLength="22.65" lengthAdjust="spacingAndGlyphs" text-anchor="start" stroke="#000" stroke-width="0.16" >0.274</text>
<rect x="1655" y="661" width="2" height="1" fill="#000" shape-rendering="crispEdges"/>
<text x="1658.2" y="665" font-size="10" fill="#000" textLength="17.61" lengthAdjust="spacingAndGlyphs" text-anchor="start" stroke="#000" stroke-width="0.16" >0.00</text>
<text x="1658.2" y="750" font-size="10" fill="#000" textLength="30.70" lengthAdjust="spacingAndGlyphs" text-anchor="start" stroke="#000" stroke-width="0.16" >-0.3242</text>
<text x="1658.2" y="766" font-size="10" fill="#000" textLength="15.10" lengthAdjust="spacingAndGlyphs" text-anchor="start" stroke="#000" stroke-width="0.16" >100</text>
<text x="1658.2" y="795" font-size="10" fill="#000" textLength="10.07" lengthAdjust="spacingAndGlyphs" text-anchor="start" stroke="#000" stroke-width="0.16" >80</text>
<text x="1658.2" y="846" font-size="10" fill="#000" textLength="10.07" lengthAdjust="spacingAndGlyphs" text-anchor="start" stroke="#000" stroke-width="0.16" >50</text>
<text x="1658.2" y="907" font-size="10" fill="#000" textLength="10.07" lengthAdjust="spacingAndGlyphs" text-anchor="start" stroke="#000" stroke-width="0.16" >15</text>
<text x="1658.2" y="926" font-size="10" fill="#000" textLength="5.03" lengthAdjust="spacingAndGlyphs" text-anchor="start" stroke="#000" stroke-width="0.16" >0</text>
<text x="0.75" y="596" font-size="10" fill="#000" textLength="127.30" lengthAdjust="spacingAndGlyphs" text-anchor="start" stroke="#000" stroke-width="0.16" >MACD(12,26,9) 0.0882 0.1146</text>
<text x="0.75" y="768.5" font-size="10" fill="#000" textLength="66.80" lengthAdjust="spacingAndGlyphs" text-anchor="start" stroke="#000" stroke-width="0.16" >RSI(14) 56.1157</text>
<polygon points="-0.4,38.9 2.8,34.6 6.2,38.9" fill="#000"/>
<text x="11.3" y="40" font-size="10" fill="#000" textLength="200.50" lengthAdjust="spacingAndGlyphs" text-anchor="start" stroke="#000" stroke-width="0.16" style="white-space:pre">USDJPY-,H4  110.369 110.386 110.362 110.362</text>
<text x="-5.5" y="942.3" font-size="10" fill="#000" textLength="49.82" lengthAdjust="spacingAndGlyphs" text-anchor="start" stroke="#000" stroke-width="0.16" >14 Jun 2021</text>
<rect x="60" y="930" width="1" height="3" fill="#000" shape-rendering="crispEdges"/>
<text x="59.5" y="942.3" font-size="10" fill="#000" textLength="52.33" lengthAdjust="spacingAndGlyphs" text-anchor="start" stroke="#000" stroke-width="0.16" >16 Jun 00:00</text>
<rect x="124" y="930" width="1" height="3" fill="#000" shape-rendering="crispEdges"/>
<text x="123.5" y="942.3" font-size="10" fill="#000" textLength="52.33" lengthAdjust="spacingAndGlyphs" text-anchor="start" stroke="#000" stroke-width="0.16" >17 Jun 08:00</text>
<rect x="188" y="930" width="1" height="3" fill="#000" shape-rendering="crispEdges"/>
<text x="187.5" y="942.3" font-size="10" fill="#000" textLength="52.33" lengthAdjust="spacingAndGlyphs" text-anchor="start" stroke="#000" stroke-width="0.16" >18 Jun 16:00</text>
<rect x="252" y="930" width="1" height="3" fill="#000" shape-rendering="crispEdges"/>
<text x="251.5" y="942.3" font-size="10" fill="#000" textLength="52.33" lengthAdjust="spacingAndGlyphs" text-anchor="start" stroke="#000" stroke-width="0.16" >22 Jun 00:00</text>
<rect x="316" y="930" width="1" height="3" fill="#000" shape-rendering="crispEdges"/>
<text x="315.5" y="942.3" font-size="10" fill="#000" textLength="52.33" lengthAdjust="spacingAndGlyphs" text-anchor="start" stroke="#000" stroke-width="0.16" >23 Jun 08:00</text>
<rect x="380" y="930" width="1" height="3" fill="#000" shape-rendering="crispEdges"/>
<text x="379.5" y="942.3" font-size="10" fill="#000" textLength="52.33" lengthAdjust="spacingAndGlyphs" text-anchor="start" stroke="#000" stroke-width="0.16" >24 Jun 16:00</text>
<rect x="444" y="930" width="1" height="3" fill="#000" shape-rendering="crispEdges"/>
<text x="443.5" y="942.3" font-size="10" fill="#000" textLength="52.33" lengthAdjust="spacingAndGlyphs" text-anchor="start" stroke="#000" stroke-width="0.16" >28 Jun 00:00</text>
<rect x="508" y="930" width="1" height="3" fill="#000" shape-rendering="crispEdges"/>
<text x="507.5" y="942.3" font-size="10" fill="#000" textLength="52.33" lengthAdjust="spacingAndGlyphs" text-anchor="start" stroke="#000" stroke-width="0.16" >29 Jun 08:00</text>
<rect x="572" y="930" width="1" height="3" fill="#000" shape-rendering="crispEdges"/>
<text x="571.5" y="942.3" font-size="10" fill="#000" textLength="52.33" lengthAdjust="spacingAndGlyphs" text-anchor="start" stroke="#000" stroke-width="0.16" >30 Jun 16:00</text>
<rect x="636" y="930" width="1" height="3" fill="#000" shape-rendering="crispEdges"/>
<text x="635.5" y="942.3" font-size="10" fill="#000" textLength="44.28" lengthAdjust="spacingAndGlyphs" text-anchor="start" stroke="#000" stroke-width="0.16" >2 Jul 00:00</text>
<rect x="700" y="930" width="1" height="3" fill="#000" shape-rendering="crispEdges"/>
<text x="699.5" y="942.3" font-size="10" fill="#000" textLength="44.28" lengthAdjust="spacingAndGlyphs" text-anchor="start" stroke="#000" stroke-width="0.16" >5 Jul 08:00</text>
<rect x="764" y="930" width="1" height="3" fill="#000" shape-rendering="crispEdges"/>
<text x="763.5" y="942.3" font-size="10" fill="#000" textLength="44.28" lengthAdjust="spacingAndGlyphs" text-anchor="start" stroke="#000" stroke-width="0.16" >6 Jul 16:00</text>
<rect x="828" y="930" width="1" height="3" fill="#000" shape-rendering="crispEdges"/>
<text x="827.5" y="942.3" font-size="10" fill="#000" textLength="44.28" lengthAdjust="spacingAndGlyphs" text-anchor="start" stroke="#000" stroke-width="0.16" >8 Jul 00:00</text>
<rect x="892" y="930" width="1" height="3" fill="#000" shape-rendering="crispEdges"/>
<text x="891.5" y="942.3" font-size="10" fill="#000" textLength="44.28" lengthAdjust="spacingAndGlyphs" text-anchor="start" stroke="#000" stroke-width="0.16" >9 Jul 08:00</text>
<rect x="956" y="930" width="1" height="3" fill="#000" shape-rendering="crispEdges"/>
<text x="955.5" y="942.3" font-size="10" fill="#000" textLength="49.31" lengthAdjust="spacingAndGlyphs" text-anchor="start" stroke="#000" stroke-width="0.16" >12 Jul 16:00</text>
<rect x="1020" y="930" width="1" height="3" fill="#000" shape-rendering="crispEdges"/>
<text x="1019.5" y="942.3" font-size="10" fill="#000" textLength="49.31" lengthAdjust="spacingAndGlyphs" text-anchor="start" stroke="#000" stroke-width="0.16" >14 Jul 00:00</text>
<rect x="1084" y="930" width="1" height="3" fill="#000" shape-rendering="crispEdges"/>
<text x="1083.5" y="942.3" font-size="10" fill="#000" textLength="49.31" lengthAdjust="spacingAndGlyphs" text-anchor="start" stroke="#000" stroke-width="0.16" >15 Jul 08:00</text>
<rect x="1148" y="930" width="1" height="3" fill="#000" shape-rendering="crispEdges"/>
<text x="1147.5" y="942.3" font-size="10" fill="#000" textLength="49.31" lengthAdjust="spacingAndGlyphs" text-anchor="start" stroke="#000" stroke-width="0.16" >16 Jul 16:00</text>
<rect x="1212" y="930" width="1" height="3" fill="#000" shape-rendering="crispEdges"/>
<text x="1211.5" y="942.3" font-size="10" fill="#000" textLength="49.31" lengthAdjust="spacingAndGlyphs" text-anchor="start" stroke="#000" stroke-width="0.16" >20 Jul 00:00</text>
<rect x="1276" y="930" width="1" height="3" fill="#000" shape-rendering="crispEdges"/>
<text x="1275.5" y="942.3" font-size="10" fill="#000" textLength="49.31" lengthAdjust="spacingAndGlyphs" text-anchor="start" stroke="#000" stroke-width="0.16" >21 Jul 08:00</text>
<rect x="1340" y="930" width="1" height="3" fill="#000" shape-rendering="crispEdges"/>
<text x="1339.5" y="942.3" font-size="10" fill="#000" textLength="49.31" lengthAdjust="spacingAndGlyphs" text-anchor="start" stroke="#000" stroke-width="0.16" >22 Jul 16:00</text>
<rect x="1404" y="930" width="1" height="3" fill="#000" shape-rendering="crispEdges"/>
<text x="1403.5" y="942.3" font-size="10" fill="#000" textLength="49.31" lengthAdjust="spacingAndGlyphs" text-anchor="start" stroke="#000" stroke-width="0.16" >26 Jul 00:00</text>
</g>
<g font-family="Liberation Sans, sans-serif">
<g shape-rendering="crispEdges" fill="#ff0000">
<rect x="843" y="475" width="9" height="1" fill="#ff0000" />
<rect x="1011" y="245" width="9" height="1" fill="#ff0000" />
<rect x="1179" y="567" width="9" height="1" fill="#ff0000" />
<rect x="1253" y="297" width="7" height="1" fill="#ff0000" />
<rect x="1374" y="265" width="6" height="1" fill="#ff0000" />
</g>
<rect x="781.5" y="466.5" width="61" height="18" fill="#fff" stroke="#ff0000" stroke-width="1" shape-rendering="crispEdges"/>
<text x="784" y="482" font-size="16.8" fill="#ff0000" textLength="57.00" lengthAdjust="spacingAndGlyphs" text-anchor="start" stroke="#ff0000" stroke-width="0">109.528</text>
<rect x="949.5" y="236.5" width="61" height="18" fill="#fff" stroke="#ff0000" stroke-width="1" shape-rendering="crispEdges"/>
<text x="952" y="252" font-size="16.8" fill="#ff0000" textLength="57.00" lengthAdjust="spacingAndGlyphs" text-anchor="start" stroke="#ff0000" stroke-width="0">110.694</text>
<rect x="1117.5" y="558.5" width="61" height="18" fill="#fff" stroke="#ff0000" stroke-width="1" shape-rendering="crispEdges"/>
<text x="1120.3" y="574" font-size="16.8" fill="#ff0000" textLength="56.50" lengthAdjust="spacingAndGlyphs" text-anchor="start" stroke="#ff0000" stroke-width="0">109.061</text>
<rect x="1309.5" y="256.5" width="61" height="18" fill="#fff" stroke="#ff0000" stroke-width="1" shape-rendering="crispEdges"/>
<text x="1312.4" y="272" font-size="16.8" fill="#ff0000" textLength="56.50" lengthAdjust="spacingAndGlyphs" text-anchor="start" stroke="#ff0000" stroke-width="0">110.593</text>
<rect x="1263.5" y="285.5" width="73" height="24" fill="#fff" stroke="#ff0000" stroke-width="1" shape-rendering="crispEdges"/>
<text x="1265.6" y="306" font-size="22.6" fill="#ff0000" textLength="69.10" lengthAdjust="spacingAndGlyphs" text-anchor="start" stroke="#ff0000" stroke-width="0.3">110.431</text>
<rect x="1260.5" y="295.5" width="3" height="3" fill="#fff" stroke="#ff0000" shape-rendering="crispEdges"/>
<rect x="1284" y="307" width="1" height="4" fill="#000" shape-rendering="crispEdges"/>
<rect x="1371.5" y="263.5" width="2" height="2" fill="#fff" stroke="#ff0000" shape-rendering="crispEdges"/>
</g>
<g shape-rendering="crispEdges">
<line x1="1178.3" y1="559.5" x2="1385.7" y2="276.3" stroke="#ff0000" stroke-width="2.9"/>
<polygon points="1391.6,268.2 1388.4,280.7 1380.6,275.0" fill="#ff0000"/>
<line x1="1392.0" y1="269.0" x2="1421.0" y2="351.3" stroke="#ff0000" stroke-width="3.2"/>
<polygon points="1424.5,361.2 1416.1,350.9 1424.6,347.9" fill="#ff0000"/>
<line x1="1424.5" y1="361.2" x2="1445.1" y2="311.2" stroke="#ff0000" stroke-width="3.2"/>
<polygon points="1448.3,303.3 1448.9,314.9 1439.7,311.1" fill="#ff0000"/>
<line x1="1450.6" y1="299.0" x2="1476.5" y2="325.8" stroke="#ff0000" stroke-width="2.7"/>
<polygon points="1482.8,332.3 1472.1,327.4 1478.2,321.4" fill="#ff0000"/>
<line x1="1253.7" y1="694.5" x2="1407.8" y2="633.9" stroke="#ff0000" stroke-width="3.7"/>
<polygon points="1417.1,630.2 1407.6,638.8 1404.3,630.4" fill="#ff0000"/>
<line x1="1409.6" y1="626.0" x2="1482.5" y2="652.5" stroke="#ff0000" stroke-width="3.0"/>
<polygon points="1491.0,655.6 1479.2,655.8 1482.1,647.9" fill="#ff0000"/>
<line x1="1372.2" y1="824.5" x2="1441.1" y2="839.6" stroke="#ff0000" stroke-width="3.4"/>
<polygon points="1450.9,841.7 1438.2,843.6 1440.2,834.6" fill="#ff0000"/>
</g>
<g clip-path="url(#cm)">
<rect x="1549.5" y="310.5" width="120" height="24" fill="#fff" stroke="#000" stroke-width="1" shape-rendering="crispEdges"/>
<text x="1549.6" y="329.6" font-size="21.3" fill="#00ff00" stroke="#00ff00" stroke-width="0.3" textLength="108.9" lengthAdjust="spacing" text-anchor="start" style="font-family:'Liberation Sans','Noto Sans CJK SC',sans-serif">多空转折点</text>
<rect x="1602.5" y="308.5" width="2" height="2" fill="#fff" stroke="#e060e0" stroke-width="0.7"/>
</g>
<defs><linearGradient id="gb" gradientUnits="userSpaceOnUse" x1="0" y1="48" x2="0" y2="105"><stop offset="0" stop-color="#4a4aec"/><stop offset="0.45" stop-color="#2a2ad8"/><stop offset="1" stop-color="#0808b0"/></linearGradient><linearGradient id="gsp" x1="0" y1="0" x2="0" y2="1"><stop offset="0" stop-color="#f4f4f4"/><stop offset="1" stop-color="#cfcfcf"/></linearGradient></defs>
<g font-family="Liberation Sans, sans-serif">
<path d="M0,48 H51 V72 H108 V105 H0 Z" fill="url(#gb)" shape-rendering="crispEdges"/>
<path d="M166,48 H218 V105 H110 V72 H166 Z" fill="url(#gb)" shape-rendering="crispEdges"/>
<rect x="3" y="72" width="44" height="1" fill="#8c8cf0" shape-rendering="crispEdges"/>
<rect x="170" y="72" width="44" height="1" fill="#8c8cf0" shape-rendering="crispEdges"/>
<rect x="53.5" y="48.5" width="110" height="23" fill="#fff" stroke="#a8a8a8" shape-rendering="crispEdges"/>
<rect x="54.5" y="49.5" width="19" height="21" fill="url(#gsp)" stroke="#c4c4c4" shape-rendering="crispEdges"/>
<rect x="143.5" y="49.5" width="19" height="21" fill="url(#gsp)" stroke="#c4c4c4" shape-rendering="crispEdges"/>
<polygon points="61,57.5 67,57.5 64,60.5" fill="#5a6ab0"/>
<polygon points="150,60.5 156,60.5 153,57.2" fill="#5a6ab0"/>
<text x="115.5" y="64" font-size="12.5" fill="#000" textLength="23.00" lengthAdjust="spacingAndGlyphs" text-anchor="start" >1.00</text>
<text x="11.5" y="64" font-size="12.5" fill="#fff" textLength="25.50" lengthAdjust="spacingAndGlyphs" text-anchor="start" >SELL</text>
<text x="179.5" y="64" font-size="12.5" fill="#fff" textLength="23.50" lengthAdjust="spacingAndGlyphs" text-anchor="start" >BUY</text>
<text x="22.6" y="100" font-size="12" fill="#fff" textLength="20.00" lengthAdjust="spacingAndGlyphs" text-anchor="start" font-weight="bold" >110</text>
<text x="132.5" y="100" font-size="12" fill="#fff" textLength="20.30" lengthAdjust="spacingAndGlyphs" text-anchor="start" font-weight="bold" >110</text>
<text x="47.6" y="100" font-size="35.3" fill="#fff" textLength="34.60" lengthAdjust="spacingAndGlyphs" text-anchor="start" stroke="url(#gb)" stroke-width="0.45">36</text>
<text x="156.6" y="100" font-size="35.3" fill="#fff" textLength="35.40" lengthAdjust="spacingAndGlyphs" text-anchor="start" stroke="url(#gb)" stroke-width="0.45">41</text>
<text x="86.8" y="83.3" font-size="11.5" fill="#fff" textLength="6.50" lengthAdjust="spacingAndGlyphs" text-anchor="start" font-weight="bold" >2</text>
<text x="197" y="83" font-size="11.5" fill="#fff" textLength="6.50" lengthAdjust="spacingAndGlyphs" text-anchor="start" font-weight="bold" >6</text>
</g>
<g>
<rect x="0" y="0" width="1701" height="24" fill="#f0f0f0" />
<rect x="0" y="24" width="1701" height="1" fill="#a6a6a6" />
<rect x="0" y="25" width="1701" height="1" fill="#8a8a8a" />
<rect x="0" y="26" width="1701" height="2" fill="#fff" />
<circle cx="0" cy="9" r="5" fill="#d8e8f8" stroke="#8aa0c0" stroke-width="1.2"/><line x1="3" y1="14" x2="7" y2="20" stroke="#c8a040" stroke-width="2.5"/>
<rect x="15" y="2" width="1" height="20" fill="#a0a0a0" shape-rendering="crispEdges"/>
<defs><linearGradient id="gpl" x1="0" y1="0" x2="1" y2="1"><stop offset="0" stop-color="#60f060"/><stop offset="0.5" stop-color="#18c818"/><stop offset="1" stop-color="#089008"/></linearGradient></defs>
<path d="M25.6,5.6 a1.2,1.2 0 0 1 1.2,-1.2 h6.6 l3.4,3.4 v8.8 a1.2,1.2 0 0 1 -1.2,1.2 h-8.8 a1.2,1.2 0 0 1 -1.2,-1.2 z" fill="#fdfdfd" stroke="#686868" stroke-width="0.9"/><path d="M33.2,4.6 v3.4 h3.4" fill="none" stroke="#888" stroke-width="0.8"/><path d="M27.6,7 h3 M27.6,10 h6 M27.6,12.4 h4 M27.6,14.8 h2.4" stroke="#9a9a9a" stroke-width="0.9"/>
<path d="M29.1,14 H32.95 V10.6 H37.15 V14 H41 V18.2 H37.15 V21.7 H32.95 V18.2 H29.1 Z" fill="url(#gpl)" stroke="#0a8a0a" stroke-width="0.8"/>
<text x="43.5" y="16.1" font-size="12.4" fill="#000" textLength="37.2" lengthAdjust="spacing" text-anchor="start" style="font-family:'Liberation Sans','Noto Sans CJK SC',sans-serif">新订单</text>
<defs><linearGradient id="gold" x1="0" y1="0" x2="1" y2="1"><stop offset="0" stop-color="#f8d850"/><stop offset="0.5" stop-color="#e8b418"/><stop offset="1" stop-color="#b87808"/></linearGradient></defs>
<path d="M97.8,5.1 L106.6,12.2 L99.5,19.6 L92.1,13.9 Z" fill="url(#gold)" stroke="#a87010" stroke-width="0.8" stroke-linejoin="round"/><path d="M93.5,14.6 L99.6,18.4 L105.5,12.6" fill="none" stroke="#fff0a0" stroke-width="0.8" opacity="0.8"/>
<path d="M122.4,6.2 l3,-1.6 h7.6 v8 h-10.6 z" fill="#2090f0" stroke="#1068c8" stroke-width="0.8"/><path d="M125.4,4.6 v8" stroke="#70c0ff" stroke-width="0.8"/><rect x="127" y="7.2" width="4.5" height="1.4" fill="#c8e4ff"/>
<path d="M123,19.4 a3.2,3.2 0 0 1 -0.4,-6.3 a3.6,3.6 0 0 1 6.6,-1.2 a3.2,3.2 0 0 1 5,3 a2.4,2.4 0 0 1 -0.8,4.5 z" fill="#e6ecf6" stroke="#5878b8" stroke-width="0.9"/>
<path d="M156,19.6 A7.8,7.8 0 0 0 163.8,11.8 L156,11.8 Z" fill="#58b058" opacity="0.5"/>
<circle cx="156" cy="11.8" r="7.3" fill="none" stroke="#a8bce8" stroke-width="1.1"/><circle cx="156" cy="11.8" r="4.6" fill="none" stroke="#7890e8" stroke-width="1.1"/><path d="M156,19.1 A7.3,7.3 0 0 0 163.3,11.8" fill="none" stroke="#58a858" stroke-width="1.2"/><path d="M156,16.4 A4.6,4.6 0 0 0 160.6,11.8" fill="none" stroke="#409840" stroke-width="1.2"/><circle cx="156" cy="11.8" r="1.7" fill="#2858d8"/><path d="M156,12 V19.6" stroke="#20a020" stroke-width="1.3"/>
<path d="M176,11.2 H190.4 L185,19.6 H181 Z" fill="#f4cc38" stroke="#c89818" stroke-width="0.7"/>
<ellipse cx="183" cy="8.6" rx="7.8" ry="2.6" fill="#58a0dc" stroke="#2a78b8" stroke-width="0.8"/><path d="M178.8,8 a4.2,4.2 0 0 1 8.4,0 z" fill="#78b8ec" stroke="#2a78b8" stroke-width="0.7"/>
<circle cx="187.4" cy="15.9" r="4.1" fill="#e02818"/><rect x="185.9" y="14.4" width="3" height="3" fill="#fff"/>
<text x="196" y="15.8" font-size="12.1" fill="#000" textLength="47.5" lengthAdjust="spacing" text-anchor="start" style="font-family:'Liberation Sans','Noto Sans CJK SC',sans-serif">自动交易</text>
<rect x="251" y="2" width="1" height="20" fill="#a0a0a0" shape-rendering="crispEdges"/>
<rect x="254" y="3" width="3" height="1" fill="#b4b4b4" shape-rendering="crispEdges"/>
<rect x="254" y="5" width="3" height="1" fill="#b4b4b4" shape-rendering="crispEdges"/>
<rect x="254" y="7" width="3" height="1" fill="#b4b4b4" shape-rendering="crispEdges"/>
<rect x="254" y="9" width="3" height="1" fill="#b4b4b4" shape-rendering="crispEdges"/>
<rect x="254" y="11" width="3" height="1" fill="#b4b4b4" shape-rendering="crispEdges"/>
<rect x="254" y="13" width="3" height="1" fill="#b4b4b4" shape-rendering="crispEdges"/>
<rect x="254" y="15" width="3" height="1" fill="#b4b4b4" shape-rendering="crispEdges"/>
<rect x="254" y="17" width="3" height="1" fill="#b4b4b4" shape-rendering="crispEdges"/>
<rect x="254" y="19" width="3" height="1" fill="#b4b4b4" shape-rendering="crispEdges"/>
<rect x="254" y="21" width="3" height="1" fill="#b4b4b4" shape-rendering="crispEdges"/>
<path d="M269.5,6 v14 M267,17.5 h14 M267.8,8 l1.7,-2 l1.7,2 M279,15.8 l2,1.7 l-2,1.7" fill="none" stroke="#505050" stroke-width="1.2"/>
<path d="M275.5,7.5 v8 M275.5,8.5 h2.5 M273,14.5 h2.5" stroke="#10a010" stroke-width="1.4" fill="none"/>
<rect x="289" y="0" width="25" height="22" fill="#f8f8f8" />
<rect x="289" y="0" width="1" height="22" fill="#a0a0a0" />
<rect x="289" y="0" width="25" height="1" fill="#a0a0a0" />
<rect x="314" y="0" width="1" height="23" fill="#fff" />
<rect x="289" y="22" width="25" height="1" fill="#fff" />
<path d="M297.5,6 v14 M295,17.5 h14 M295.8,8 l1.7,-2 l1.7,2 M307,15.8 l2,1.7 l-2,1.7" fill="none" stroke="#505050" stroke-width="1.2"/>
<rect x="301" y="6.5" width="4" height="8" fill="#20d020" stroke="#0a800a"/><path d="M303,4 v2.5 M303,14.5 v2" stroke="#0a800a"/>
<path d="M326.5,6 v14 M324,17.5 h14 M324.8,8 l1.7,-2 l1.7,2 M336,15.8 l2,1.7 l-2,1.7" fill="none" stroke="#505050" stroke-width="1.2"/>
<path d="M326,15 q4,-10 7,-6 t4,4" fill="none" stroke="#10a010" stroke-width="1.3"/>
<rect x="346" y="2" width="1" height="20" fill="#a0a0a0" shape-rendering="crispEdges"/>
<line x1="365" y1="13" x2="370" y2="18.5" stroke="#d0a838" stroke-width="3" stroke-linecap="round"/>
<circle cx="361.5" cy="10" r="5.8" fill="#dcecfc" stroke="#4a90e0" stroke-width="1.6"/>
<path d="M-3,0 h6 M0,-3 v6" stroke="#2a70d0" stroke-width="1.8" fill="none" transform="translate(361.5,10)"/>
<line x1="393" y1="13" x2="398" y2="18.5" stroke="#d0a838" stroke-width="3" stroke-linecap="round"/>
<circle cx="389.5" cy="10" r="5.8" fill="#dcecfc" stroke="#4a90e0" stroke-width="1.6"/>
<path d="M-3,0 h6" stroke="#2a70d0" stroke-width="1.8" fill="none" transform="translate(389.5,10)"/>
<rect x="411" y="4" width="8" height="7.5" fill="#48a030" />
<rect x="412.5" y="7" width="5" height="2.5" fill="#e8f0ff" />
<rect x="420" y="4" width="8" height="7.5" fill="#2858d0" />
<rect x="421.5" y="7" width="5" height="2.5" fill="#e8f0ff" />
<rect x="411" y="12.5" width="8" height="7.5" fill="#2858d0" />
<rect x="412.5" y="15.5" width="5" height="2.5" fill="#e8f0ff" />
<rect x="420" y="12.5" width="8" height="7.5" fill="#48a030" />
<rect x="421.5" y="15.5" width="5" height="2.5" fill="#e8f0ff" />
<rect x="436" y="2" width="1" height="20" fill="#a0a0a0" shape-rendering="crispEdges"/>
<rect x="441" y="0" width="25" height="22" fill="#f8f8f8" />
<rect x="441" y="0" width="1" height="22" fill="#a0a0a0" />
<rect x="441" y="0" width="25" height="1" fill="#a0a0a0" />
<rect x="466" y="0" width="1" height="23" fill="#fff" />
<rect x="441" y="22" width="25" height="1" fill="#fff" />
<path d="M450.5,6 v14 M448,17.5 h14 M448.8,8 l1.7,-2 l1.7,2 M460,15.8 l2,1.7 l-2,1.7" fill="none" stroke="#505050" stroke-width="1.2"/>
<polygon points="454.5,8.5 454.5,14.5 458.5,11.5" fill="#20c020" stroke="#108010" stroke-width="0.6"/>
<rect x="469" y="0" width="25" height="22" fill="#f8f8f8" />
<rect x="469" y="0" width="1" height="22" fill="#a0a0a0" />
<rect x="469" y="0" width="25" height="1" fill="#a0a0a0" />
<rect x="494" y="0" width="1" height="23" fill="#fff" />
<rect x="469" y="22" width="25" height="1" fill="#fff" />
<path d="M478.5,6 v14 M476,17.5 h14 M476.8,8 l1.7,-2 l1.7,2 M488,15.8 l2,1.7 l-2,1.7" fill="none" stroke="#505050" stroke-width="1.2"/>
<path d="M483.5,6 v10" stroke="#2060c0" stroke-width="1.2"/><path d="M485,11.5 h5 M485,11.5 l2.5,-2 M485,11.5 l2.5,2" stroke="#d02010" stroke-width="1.1" fill="none"/>
<rect x="498" y="2" width="1" height="20" fill="#a0a0a0" shape-rendering="crispEdges"/>
<path d="M508.6,5.8 a1.2,1.2 0 0 1 1.2,-1.2 h6 l3.6,3.6 v8 a1.2,1.2 0 0 1 -1.2,1.2 h-8.4 a1.2,1.2 0 0 1 -1.2,-1.2 z" fill="#fdfdfd" stroke="#686868" stroke-width="0.9"/><path d="M514,7.6 q-1.8,-0.4 -1.8,1.6 v5 q0,1.6 -1.4,1.4 M510.8,11 h3" fill="none" stroke="#606060" stroke-width="0.8"/>
<path d="M512,13.6 H515.9 V9.9 H520.1 V13.6 H524 V17.8 H520.1 V21.5 H515.9 V17.8 H512 Z" fill="url(#gpl)" stroke="#0a8a0a" stroke-width="0.8"/>
<polygon points="529.5,10.5 535.5,10.5 532.5,14" fill="#000"/>
<circle cx="554" cy="12" r="7.4" fill="#f6f9ff" stroke="#1c68d0" stroke-width="2.2"/><circle cx="554" cy="12" r="8.2" fill="none" stroke="#104aa0" stroke-width="0.6"/><path d="M554,8 v4.3 h3" stroke="#303030" stroke-width="1.1" fill="none"/>
<polygon points="568.5,10.5 574.5,10.5 571.5,14" fill="#000"/>
<rect x="585.5" y="5.5" width="15" height="13" fill="#fff" stroke="#3a70c8"/><rect x="585.5" y="5.5" width="15" height="2.5" fill="#3a70c8"/><path d="M587,11 l3,-1 l3,1 l3,-1.5 l3,0.5" stroke="#c02818" fill="none"/><path d="M587,16 l3,-1 l3,1 l3,-2 l3,1.5" stroke="#18a018" fill="none"/>
<polygon points="607.5,10.5 613.5,10.5 610.5,14" fill="#000"/>
<rect x="619" y="0" width="1" height="24" fill="#707070" />
<rect x="620" y="0" width="1" height="24" fill="#fff" />
<rect x="623" y="3" width="3" height="1" fill="#b4b4b4" shape-rendering="crispEdges"/>
<rect x="623" y="5" width="3" height="1" fill="#b4b4b4" shape-rendering="crispEdges"/>
<rect x="623" y="7" width="3" height="1" fill="#b4b4b4" shape-rendering="crispEdges"/>
<rect x="623" y="9" width="3" height="1" fill="#b4b4b4" shape-rendering="crispEdges"/>
<rect x="623" y="11" width="3" height="1" fill="#b4b4b4" shape-rendering="crispEdges"/>
<rect x="623" y="13" width="3" height="1" fill="#b4b4b4" shape-rendering="crispEdges"/>
<rect x="623" y="15" width="3" height="1" fill="#b4b4b4" shape-rendering="crispEdges"/>
<rect x="623" y="17" width="3" height="1" fill="#b4b4b4" shape-rendering="crispEdges"/>
<rect x="623" y="19" width="3" height="1" fill="#b4b4b4" shape-rendering="crispEdges"/>
<rect x="623" y="21" width="3" height="1" fill="#b4b4b4" shape-rendering="crispEdges"/>
<rect x="629" y="0" width="25" height="22" fill="#f8f8f8" />
<rect x="629" y="0" width="1" height="22" fill="#a0a0a0" />
<rect x="629" y="0" width="25" height="1" fill="#a0a0a0" />
<rect x="654" y="0" width="1" height="23" fill="#fff" />
<rect x="629" y="22" width="25" height="1" fill="#fff" />
<path d="M637.5,5 v13 l3,-3 l2.3,5 l2,-1 l-2.3,-4.8 h4 z" fill="#505050"/>
<rect x="669" y="5" width="1" height="15" fill="#484848" shape-rendering="crispEdges"/>
<rect x="662" y="12" width="15" height="1" fill="#484848" shape-rendering="crispEdges"/>
<rect x="686" y="2" width="1" height="20" fill="#a0a0a0" shape-rendering="crispEdges"/>
<rect x="703" y="6" width="1" height="13" fill="#484848" shape-rendering="crispEdges"/>
<rect x="726" y="12" width="12" height="1" fill="#484848" shape-rendering="crispEdges"/>
<path d="M754,19 l12,-12" stroke="#505050" stroke-width="1.1"/>
<path d="M780,17 l12,-9 M783,19 l12,-9 M781,13 l10,-7.5" stroke="#505050" stroke-width="0.9" fill="none"/><path d="M786,8 l-1,10 M790,5 l-1,10" stroke="#505050" stroke-width="0.9"/>
<g font-family="Liberation Sans, sans-serif">
<text x="792.5" y="21" font-size="6.5" fill="#303030" textLength="4.34" lengthAdjust="spacingAndGlyphs" text-anchor="start" font-weight="bold" >E</text>
<line x1="809" y1="5.5" x2="822" y2="5.5" stroke="#505050" stroke-dasharray="1 1" shape-rendering="crispEdges"/>
<line x1="809" y1="8.5" x2="822" y2="8.5" stroke="#505050" stroke-dasharray="1 1" shape-rendering="crispEdges"/>
<line x1="809" y1="11.5" x2="822" y2="11.5" stroke="#505050" stroke-dasharray="1 1" shape-rendering="crispEdges"/>
<line x1="809" y1="16.5" x2="822" y2="16.5" stroke="#505050" stroke-dasharray="1 1" shape-rendering="crispEdges"/>
<text x="819.5" y="21" font-size="6.5" fill="#303030" textLength="3.97" lengthAdjust="spacingAndGlyphs" text-anchor="start" font-weight="bold" >F</text>
<text x="839.5" y="17" font-size="13.5" fill="#505050" textLength="9.00" lengthAdjust="spacingAndGlyphs" text-anchor="start" >A</text>
<rect x="866.5" y="6.5" width="11" height="12" fill="none" stroke="#505050" stroke-dasharray="1 1" shape-rendering="crispEdges"/>
<text x="868.3" y="17" font-size="12" fill="#505050" textLength="7.33" lengthAdjust="spacingAndGlyphs" text-anchor="start" >T</text>
<path d="M897,6.5 l3,3 l-3,3 l-3,-3 z M903,12.5 l3,3 l-3,3 l-3,-3 z" fill="#404040"/><path d="M896,11 l2.5,3.5 l3,-4" stroke="#404040" fill="none" stroke-width="0.9"/>
<polygon points="913.5,10.5 919.5,10.5 916.5,14" fill="#000"/>
<rect x="925" y="0" width="1" height="24" fill="#707070" />
<rect x="926" y="0" width="1" height="24" fill="#fff" />
<rect x="929" y="3" width="3" height="1" fill="#b4b4b4" shape-rendering="crispEdges"/>
<rect x="929" y="5" width="3" height="1" fill="#b4b4b4" shape-rendering="crispEdges"/>
<rect x="929" y="7" width="3" height="1" fill="#b4b4b4" shape-rendering="crispEdges"/>
<rect x="929" y="9" width="3" height="1" fill="#b4b4b4" shape-rendering="crispEdges"/>
<rect x="929" y="11" width="3" height="1" fill="#b4b4b4" shape-rendering="crispEdges"/>
<rect x="929" y="13" width="3" height="1" fill="#b4b4b4" shape-rendering="crispEdges"/>
<rect x="929" y="15" width="3" height="1" fill="#b4b4b4" shape-rendering="crispEdges"/>
<rect x="929" y="17" width="3" height="1" fill="#b4b4b4" shape-rendering="crispEdges"/>
<rect x="929" y="19" width="3" height="1" fill="#b4b4b4" shape-rendering="crispEdges"/>
<rect x="929" y="21" width="3" height="1" fill="#b4b4b4" shape-rendering="crispEdges"/>
<rect x="1075" y="0" width="25" height="22" fill="#f8f8f8" />
<rect x="1075" y="0" width="1" height="22" fill="#a0a0a0" />
<rect x="1075" y="0" width="25" height="1" fill="#a0a0a0" />
<rect x="1100" y="0" width="1" height="23" fill="#fff" />
<rect x="1075" y="22" width="25" height="1" fill="#fff" />
<text x="940.8" y="16.3" font-size="10.5" fill="#404040" textLength="12.50" lengthAdjust="spacingAndGlyphs" text-anchor="start" >M1</text>
<text x="968.6" y="16.3" font-size="10.5" fill="#404040" textLength="12.70" lengthAdjust="spacingAndGlyphs" text-anchor="start" >M5</text>
<text x="995" y="16.3" font-size="10.5" fill="#404040" textLength="17.00" lengthAdjust="spacingAndGlyphs" text-anchor="start" >M15</text>
<text x="1022.9" y="16.3" font-size="10.5" fill="#404040" textLength="17.10" lengthAdjust="spacingAndGlyphs" text-anchor="start" >M30</text>
<text x="1053.8" y="16.3" font-size="10.5" fill="#404040" textLength="11.20" lengthAdjust="spacingAndGlyphs" text-anchor="start" >H1</text>
<text x="1080.4" y="16.3" font-size="10.5" fill="#404040" textLength="12.40" lengthAdjust="spacingAndGlyphs" text-anchor="start" >H4</text>
<text x="1109.6" y="16.3" font-size="10.5" fill="#404040" textLength="11.40" lengthAdjust="spacingAndGlyphs" text-anchor="start" >D1</text>
<text x="1137" y="16.3" font-size="10.5" fill="#404040" textLength="14.00" lengthAdjust="spacingAndGlyphs" text-anchor="start" >W1</text>
<text x="1163.5" y="16.3" font-size="10.5" fill="#404040" textLength="15.10" lengthAdjust="spacingAndGlyphs" text-anchor="start" >MN</text>
</g>
<rect x="1186" y="0" width="1" height="24" fill="#a0a0a0" />
<circle cx="1656.5" cy="9.4" r="4" fill="#f4f6ff" stroke="#2a5cd0" stroke-width="1.3"/><line x1="1653.5" y1="12.3" x2="1649.4" y2="16.4" stroke="#2a5cd0" stroke-width="2.4" stroke-linecap="round"/>
<ellipse cx="1678.4" cy="14.2" rx="5.2" ry="3.9" fill="#e2e2ea" stroke="#b4b4b8" stroke-width="0.8"/><path d="M1675.6,17 l0.6,3.2 l2.6,-2.6 z" fill="#d8d8e0" stroke="#b4b4b8" stroke-width="0.6"/>
<defs><linearGradient id="gbd" x1="0" y1="0" x2="0" y2="1"><stop offset="0" stop-color="#ea5838"/><stop offset="1" stop-color="#d81c0c"/></linearGradient></defs>
<circle cx="1687.4" cy="9.4" r="8.2" fill="url(#gbd)"/>
<g font-family="Liberation Sans, sans-serif">
<text x="1683.4" y="14.2" font-size="13" fill="#fff" textLength="7.23" lengthAdjust="spacingAndGlyphs" text-anchor="start" stroke="#fff" stroke-width="0.3">1</text>
</g>
</g>
</svg>
</body></html>
